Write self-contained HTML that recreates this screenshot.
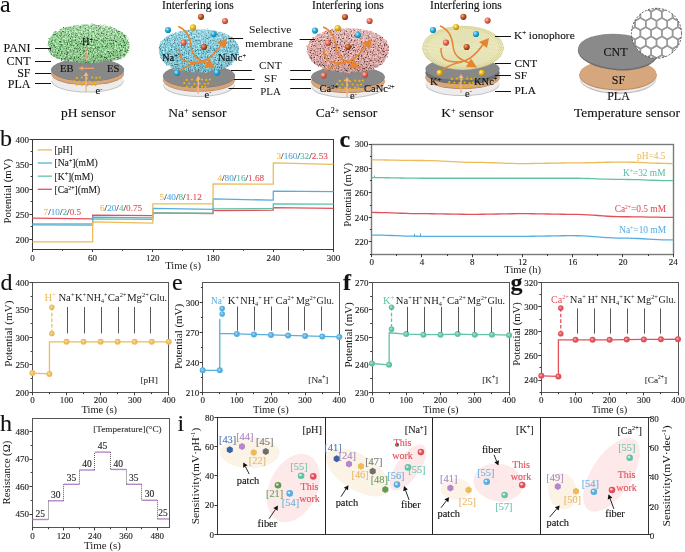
<!DOCTYPE html>
<html><head><meta charset="utf-8"><style>
html,body{margin:0;padding:0;background:#fff;}
svg{display:block;}
svg{will-change:transform;}
text{font-family:"Liberation Serif", serif;}
</style></head><body>
<svg width="685" height="552" viewBox="0 0 685 552">
<defs><radialGradient id="gBlue" cx="35%" cy="35%" r="65%"><stop offset="0" stop-color="#bff0ff"/><stop offset="0.45" stop-color="#2fb4e0"/><stop offset="1" stop-color="#0a7fb0"/></radialGradient><radialGradient id="gYel" cx="35%" cy="35%" r="65%"><stop offset="0" stop-color="#fff4b0"/><stop offset="0.45" stop-color="#f2c020"/><stop offset="1" stop-color="#c08a00"/></radialGradient><radialGradient id="gRed" cx="35%" cy="35%" r="65%"><stop offset="0" stop-color="#ffd0c0"/><stop offset="0.45" stop-color="#e87060"/><stop offset="1" stop-color="#b04030"/></radialGradient><radialGradient id="gBrn" cx="35%" cy="35%" r="65%"><stop offset="0" stop-color="#f0b090"/><stop offset="0.45" stop-color="#c86030"/><stop offset="1" stop-color="#803010"/></radialGradient><linearGradient id="gShade" x1="0" y1="0" x2="0" y2="1"><stop offset="0" stop-color="#fff" stop-opacity="0.22"/><stop offset="0.5" stop-color="#fff" stop-opacity="0"/><stop offset="1" stop-color="#000" stop-opacity="0.12"/></linearGradient><filter id="fGreen" x="-10%" y="-10%" width="120%" height="120%" color-interpolation-filters="sRGB">
<feTurbulence type="fractalNoise" baseFrequency="0.6" numOctaves="2" seed="3" result="n"/>
<feColorMatrix in="n" type="matrix" values="0 0 0 0.75 0.195  0 0 0 0.75 0.435  0 0 0 0.75 0.195  0 0 0 0 1" result="c"/>
<feTurbulence type="fractalNoise" baseFrequency="0.7" numOctaves="2" seed="7" result="s0"/>
<feGaussianBlur in="s0" stdDeviation="0.3" result="s"/>
<feColorMatrix in="s" type="matrix" values="0 0 0 0 0.22  0 0 0 0 0.36  0 0 0 0 0.22  0 0 0 6.0 -3.480" result="sp"/>
<feComposite in="sp" in2="c" operator="over" result="cs"/>
<feTurbulence type="fractalNoise" baseFrequency="0.35" numOctaves="2" seed="12" result="d"/>
<feDisplacementMap in="SourceGraphic" in2="d" scale="3" xChannelSelector="R" yChannelSelector="G" result="shape"/>
<feComposite in="cs" in2="shape" operator="in"/>
</filter><filter id="fBlue" x="-10%" y="-10%" width="120%" height="120%" color-interpolation-filters="sRGB">
<feTurbulence type="fractalNoise" baseFrequency="0.6" numOctaves="2" seed="7" result="n"/>
<feColorMatrix in="n" type="matrix" values="0 0 0 0.6 0.220  0 0 0 0.6 0.500  0 0 0 0.6 0.560  0 0 0 0 1" result="c"/>
<feTurbulence type="fractalNoise" baseFrequency="0.7" numOctaves="2" seed="11" result="s0"/>
<feGaussianBlur in="s0" stdDeviation="0.3" result="s"/>
<feColorMatrix in="s" type="matrix" values="0 0 0 0 0.25  0 0 0 0 0.45  0 0 0 0 0.5  0 0 0 6.0 -3.480" result="sp"/>
<feComposite in="sp" in2="c" operator="over" result="cs"/>
<feTurbulence type="fractalNoise" baseFrequency="0.35" numOctaves="2" seed="16" result="d"/>
<feDisplacementMap in="SourceGraphic" in2="d" scale="3" xChannelSelector="R" yChannelSelector="G" result="shape"/>
<feComposite in="cs" in2="shape" operator="in"/>
</filter><filter id="fPink" x="-10%" y="-10%" width="120%" height="120%" color-interpolation-filters="sRGB">
<feTurbulence type="fractalNoise" baseFrequency="0.6" numOctaves="2" seed="11" result="n"/>
<feColorMatrix in="n" type="matrix" values="0 0 0 0.6 0.570  0 0 0 0.6 0.370  0 0 0 0.6 0.360  0 0 0 0 1" result="c"/>
<feTurbulence type="fractalNoise" baseFrequency="0.7" numOctaves="2" seed="15" result="s0"/>
<feGaussianBlur in="s0" stdDeviation="0.3" result="s"/>
<feColorMatrix in="s" type="matrix" values="0 0 0 0 0.35  0 0 0 0 0.22  0 0 0 0 0.22  0 0 0 6.0 -3.480" result="sp"/>
<feComposite in="sp" in2="c" operator="over" result="cs"/>
<feTurbulence type="fractalNoise" baseFrequency="0.35" numOctaves="2" seed="20" result="d"/>
<feDisplacementMap in="SourceGraphic" in2="d" scale="3" xChannelSelector="R" yChannelSelector="G" result="shape"/>
<feComposite in="cs" in2="shape" operator="in"/>
</filter><radialGradient id="gCream" cx="50%" cy="45%" r="55%"><stop offset="0" stop-color="#f2f0c8"/><stop offset="0.8" stop-color="#e8e4a8"/><stop offset="1" stop-color="#d8d290"/></radialGradient><pattern id="pRings" patternUnits="userSpaceOnUse" width="1.8" height="1.8"><circle cx="0.9" cy="0.9" r="0.55" fill="#c9c27a" fill-opacity="0.55"/></pattern><clipPath id="cHex"><circle cx="656.5" cy="33.3" r="25"/></clipPath></defs>
<rect width="685" height="552" fill="#fff"/>
<text x="0.0" y="12.2" font-size="24" text-anchor="start" fill="#111" stroke="#111" stroke-width="0.12" >a</text>
<ellipse cx="87.6" cy="81.20" rx="36.1" ry="11.3" fill="#c4c4c4"/>
<ellipse cx="87.6" cy="80.20" rx="35.8" ry="11.3" fill="#ececec"/>
<ellipse cx="87.6" cy="73.90" rx="36.4" ry="11.3" fill="#c08a60"/>
<ellipse cx="87.6" cy="73.10" rx="36.4" ry="11.3" fill="#d6a67c"/>
<ellipse cx="87.6" cy="70.00" rx="36.4" ry="11.3" fill="#707070"/>
<ellipse cx="87.6" cy="69.7" rx="36.4" ry="11.3" fill="#888888"/>
<circle cx="76.8" cy="77.9" r="1.1" fill="#F2B400"/>
<circle cx="81.9" cy="77.5" r="1.1" fill="#F2B400"/>
<circle cx="87.0" cy="78.3" r="1.1" fill="#F2B400"/>
<circle cx="92.1" cy="77.5" r="1.1" fill="#F2B400"/>
<circle cx="96.3" cy="77.9" r="1.1" fill="#F2B400"/>
<circle cx="99.8" cy="77.5" r="1.1" fill="#F2B400"/>
<circle cx="74.2" cy="81.0" r="1.1" fill="#F2B400"/>
<circle cx="79.3" cy="81.5" r="1.1" fill="#F2B400"/>
<circle cx="84.5" cy="82.0" r="1.1" fill="#F2B400"/>
<circle cx="89.5" cy="81.5" r="1.1" fill="#F2B400"/>
<circle cx="94.7" cy="82.0" r="1.1" fill="#F2B400"/>
<circle cx="98.0" cy="81.5" r="1.1" fill="#F2B400"/>
<circle cx="76.8" cy="84.7" r="1.1" fill="#F2B400"/>
<circle cx="81.9" cy="85.1" r="1.1" fill="#F2B400"/>
<circle cx="87.0" cy="85.5" r="1.1" fill="#F2B400"/>
<circle cx="92.1" cy="84.7" r="1.1" fill="#F2B400"/>
<circle cx="95.5" cy="85.1" r="1.1" fill="#F2B400"/>
<path d="M48,47 C46,34 62,24 88,24.5 C114,24 131,33 129.5,47 C128,58 118,62 106,60 C100,63 92,64 86,63 C78,63 70,61 62,60 C52,58 48,53 48,47 Z" fill="#000" filter="url(#fGreen)"/>
<path d="M48,47 C46,34 62,24 88,24.5 C114,24 131,33 129.5,47 C128,58 118,62 106,60 C100,63 92,64 86,63 C78,63 70,61 62,60 C52,58 48,53 48,47 Z" fill="url(#gShade)"/>
<circle cx="70" cy="33" r="0.85" fill="#fff" fill-opacity="0.75"/>
<circle cx="76" cy="31" r="0.85" fill="#fff" fill-opacity="0.75"/>
<circle cx="82" cy="29" r="0.85" fill="#fff" fill-opacity="0.75"/>
<circle cx="90" cy="30" r="0.85" fill="#fff" fill-opacity="0.75"/>
<circle cx="96" cy="32" r="0.85" fill="#fff" fill-opacity="0.75"/>
<circle cx="102" cy="30" r="0.85" fill="#fff" fill-opacity="0.75"/>
<circle cx="108" cy="34" r="0.85" fill="#fff" fill-opacity="0.75"/>
<circle cx="74" cy="38" r="0.85" fill="#fff" fill-opacity="0.75"/>
<circle cx="100" cy="38" r="0.85" fill="#fff" fill-opacity="0.75"/>
<circle cx="94" cy="36" r="0.85" fill="#fff" fill-opacity="0.75"/>
<circle cx="80" cy="35" r="0.85" fill="#fff" fill-opacity="0.75"/>
<circle cx="112" cy="37" r="0.85" fill="#fff" fill-opacity="0.75"/>
<circle cx="66" cy="37" r="0.85" fill="#fff" fill-opacity="0.75"/>
<line x1="86" y1="48" x2="86" y2="57" stroke="#F0A070" stroke-width="1.3"/><polygon points="86,61 83.8,56.5 88.2,56.5" fill="#F0A070"/>
<line x1="94" y1="68.3" x2="82" y2="68.3" stroke="#F0A070" stroke-width="1.3"/><polygon points="78.5,68.3 83,66.1 83,70.5" fill="#F0A070"/>
<line x1="86" y1="92" x2="86" y2="75" stroke="#F4B48C" stroke-width="1.4"/>
<polygon points="86,72 83.5,76 88.5,76" fill="#F4B48C"/>
<text x="82.0" y="45.0" font-size="10.5" text-anchor="start" fill="#111" stroke="#111" stroke-width="0.12" >H<tspan dy="-3.47" font-size="6.3">+</tspan></text>
<text x="60.0" y="72.0" font-size="10.5" text-anchor="start" fill="#111" stroke="#111" stroke-width="0.12" >EB</text>
<text x="107.0" y="72.0" font-size="10.5" text-anchor="start" fill="#111" stroke="#111" stroke-width="0.12" >ES</text>
<text x="95.5" y="94.0" font-size="10.5" text-anchor="start" fill="#111" stroke="#111" stroke-width="0.12" >e<tspan dy="-3.47" font-size="6.3">-</tspan></text>
<text x="30.5" y="52.4" font-size="12" text-anchor="end" fill="#111" stroke="#111" stroke-width="0.12" >PANI</text>
<line x1="35.00" y1="48.50" x2="51.00" y2="48.50" stroke="#111" stroke-width="1.0" />
<text x="30.5" y="65.0" font-size="12" text-anchor="end" fill="#111" stroke="#111" stroke-width="0.12" >CNT</text>
<line x1="35.00" y1="61.50" x2="51.00" y2="61.50" stroke="#111" stroke-width="1.0" />
<text x="30.5" y="77.0" font-size="12" text-anchor="end" fill="#111" stroke="#111" stroke-width="0.12" >SF</text>
<line x1="35.00" y1="73.50" x2="51.00" y2="73.50" stroke="#111" stroke-width="1.0" />
<text x="30.5" y="88.0" font-size="12" text-anchor="end" fill="#111" stroke="#111" stroke-width="0.12" >PLA</text>
<line x1="35.00" y1="83.50" x2="51.00" y2="83.50" stroke="#111" stroke-width="1.0" />
<text x="88.3" y="117.4" font-size="13.5" text-anchor="middle" fill="#111" stroke="#111" stroke-width="0.12" >pH sensor</text>
<ellipse cx="199" cy="85.40" rx="35.7" ry="11.5" fill="#c4c4c4"/>
<ellipse cx="199" cy="84.40" rx="35.4" ry="11.5" fill="#ececec"/>
<ellipse cx="199" cy="80.30" rx="36" ry="11.5" fill="#c08a60"/>
<ellipse cx="199" cy="79.50" rx="36" ry="11.5" fill="#d6a67c"/>
<ellipse cx="199" cy="76.30" rx="36" ry="11.5" fill="#707070"/>
<ellipse cx="199" cy="76" rx="36" ry="11.5" fill="#888888"/>
<circle cx="186.8" cy="79.9" r="1.1" fill="#F2B400"/>
<circle cx="191.9" cy="79.5" r="1.1" fill="#F2B400"/>
<circle cx="197.0" cy="80.3" r="1.1" fill="#F2B400"/>
<circle cx="202.1" cy="79.5" r="1.1" fill="#F2B400"/>
<circle cx="206.3" cy="79.9" r="1.1" fill="#F2B400"/>
<circle cx="209.8" cy="79.5" r="1.1" fill="#F2B400"/>
<circle cx="184.2" cy="83.0" r="1.1" fill="#F2B400"/>
<circle cx="189.3" cy="83.5" r="1.1" fill="#F2B400"/>
<circle cx="194.4" cy="84.0" r="1.1" fill="#F2B400"/>
<circle cx="199.6" cy="83.5" r="1.1" fill="#F2B400"/>
<circle cx="204.7" cy="84.0" r="1.1" fill="#F2B400"/>
<circle cx="208.1" cy="83.5" r="1.1" fill="#F2B400"/>
<circle cx="186.8" cy="86.7" r="1.1" fill="#F2B400"/>
<circle cx="191.9" cy="87.1" r="1.1" fill="#F2B400"/>
<circle cx="197.0" cy="87.5" r="1.1" fill="#F2B400"/>
<circle cx="202.1" cy="86.7" r="1.1" fill="#F2B400"/>
<circle cx="205.5" cy="87.1" r="1.1" fill="#F2B400"/>
<path d="M159,51 C157,37 176,29 199,29.5 C222,29 241,37 239,51 C238,62 228,69 214,70.5 C206,72.5 194,73 186,71.5 C172,70.5 160,63 159,51 Z" fill="#000" filter="url(#fBlue)"/>
<path d="M159,51 C157,37 176,29 199,29.5 C222,29 241,37 239,51 C238,62 228,69 214,70.5 C206,72.5 194,73 186,71.5 C172,70.5 160,63 159,51 Z" fill="url(#gShade)"/>
<line x1="198.2" y1="94" x2="198.2" y2="78.8" stroke="#F4B48C" stroke-width="1.4"/>
<polygon points="198.2,75.8 195.7,79.8 200.7,79.8" fill="#F4B48C"/>
<path d="M178.2,26.5 C186.2,29.5 190.2,36.5 191.2,46.5 C192.2,56.5 198.2,60.5 208.2,63.5" fill="none" stroke="#E8832E" stroke-width="1.5"/>
<polygon points="215.2,68.0 204.2,67.5 209.2,59.0" fill="#E8832E"/>
<path d="M179.2,48.5 C179.2,58.5 181.2,62.5 196.2,62.5 C208.2,62.5 216.2,52.5 222.2,43.5" fill="none" stroke="#E8832E" stroke-width="1.5"/>
<polygon points="227.2,38.5 225.2,48.5 217.2,42.5" fill="#E8832E"/>
<path d="M180.2,70.5 C186.2,66.5 192.2,63.5 200.2,62.5" fill="none" stroke="#E8832E" stroke-width="1.5"/>
<circle cx="201.0" cy="16.8" r="3.1" fill="url(#gBrn)"/>
<circle cx="225.0" cy="21.0" r="3.1" fill="url(#gRed)"/>
<circle cx="168.0" cy="30.0" r="3.1" fill="url(#gBlue)"/>
<circle cx="193.0" cy="27.4" r="3.1" fill="url(#gYel)"/>
<circle cx="213.6" cy="34.0" r="3.1" fill="url(#gBlue)"/>
<circle cx="183.6" cy="42.6" r="3.1" fill="url(#gRed)"/>
<circle cx="204.0" cy="47.0" r="3.1" fill="url(#gBrn)"/>
<circle cx="177.0" cy="73.0" r="3.1" fill="url(#gBlue)"/>
<circle cx="217.0" cy="72.6" r="3.1" fill="url(#gBlue)"/>
<text x="162.0" y="61.0" font-size="10.5" text-anchor="start" fill="#111" stroke="#111" stroke-width="0.12" >Na<tspan dy="-3.47" font-size="6.3">+</tspan></text>
<text x="218.0" y="61.0" font-size="10.5" text-anchor="start" fill="#111" stroke="#111" stroke-width="0.12" >NaNc<tspan dy="-3.47" font-size="6.3">+</tspan></text>
<text x="204.5" y="97.5" font-size="10.5" text-anchor="start" fill="#111" stroke="#111" stroke-width="0.12" >e<tspan dy="-3.47" font-size="6.3">-</tspan></text>
<text x="198.0" y="9.0" font-size="11.6" text-anchor="middle" fill="#111" stroke="#111" stroke-width="0.12" >Interfering ions</text>
<line x1="228.60" y1="38.50" x2="243.10" y2="38.50" stroke="#111" stroke-width="1.0" />
<text x="270.2" y="32.8" font-size="11.3" text-anchor="middle" fill="#111" textLength="42.5" lengthAdjust="spacingAndGlyphs" >Selective</text>
<text x="269.2" y="46.5" font-size="11.3" text-anchor="middle" fill="#111" textLength="47.8" lengthAdjust="spacingAndGlyphs" >membrane</text>
<line x1="230.80" y1="70.50" x2="251.80" y2="70.50" stroke="#111" stroke-width="1.0" />
<line x1="233.70" y1="79.50" x2="254.70" y2="79.50" stroke="#111" stroke-width="1.0" />
<line x1="228.60" y1="88.50" x2="251.80" y2="88.50" stroke="#111" stroke-width="1.0" />
<text x="270.3" y="69.3" font-size="11.3" text-anchor="middle" fill="#111" textLength="22.5" lengthAdjust="spacingAndGlyphs" >CNT</text>
<text x="270.5" y="82.3" font-size="11.3" text-anchor="middle" fill="#111" textLength="12.8" lengthAdjust="spacingAndGlyphs" >SF</text>
<text x="270.5" y="94.6" font-size="11.3" text-anchor="middle" fill="#111" textLength="20.6" lengthAdjust="spacingAndGlyphs" >PLA</text>
<line x1="290.20" y1="70.50" x2="311.00" y2="70.50" stroke="#111" stroke-width="1.0" />
<line x1="290.20" y1="79.50" x2="311.00" y2="79.50" stroke="#111" stroke-width="1.0" />
<line x1="290.20" y1="88.50" x2="311.00" y2="88.50" stroke="#111" stroke-width="1.0" />
<text x="197.4" y="117.4" font-size="13.5" text-anchor="middle" fill="#111" stroke="#111" stroke-width="0.12" >Na<tspan dy="-4.46" font-size="8.1">+</tspan><tspan dy="4.46"> sensor</tspan></text>
<ellipse cx="348" cy="87.00" rx="36.5" ry="11" fill="#c4c4c4"/>
<ellipse cx="348" cy="86.00" rx="36.199999999999996" ry="11" fill="#ececec"/>
<ellipse cx="348" cy="82.00" rx="36.8" ry="11" fill="#c08a60"/>
<ellipse cx="348" cy="81.20" rx="36.8" ry="11" fill="#d6a67c"/>
<ellipse cx="348" cy="77.50" rx="36.8" ry="11" fill="#707070"/>
<ellipse cx="348" cy="77" rx="36.8" ry="11" fill="#888888"/>
<circle cx="339.8" cy="80.9" r="1.1" fill="#F2B400"/>
<circle cx="344.9" cy="80.5" r="1.1" fill="#F2B400"/>
<circle cx="350.0" cy="81.3" r="1.1" fill="#F2B400"/>
<circle cx="355.1" cy="80.5" r="1.1" fill="#F2B400"/>
<circle cx="359.4" cy="80.9" r="1.1" fill="#F2B400"/>
<circle cx="362.8" cy="80.5" r="1.1" fill="#F2B400"/>
<circle cx="337.2" cy="84.0" r="1.1" fill="#F2B400"/>
<circle cx="342.4" cy="84.5" r="1.1" fill="#F2B400"/>
<circle cx="347.4" cy="85.0" r="1.1" fill="#F2B400"/>
<circle cx="352.6" cy="84.5" r="1.1" fill="#F2B400"/>
<circle cx="357.6" cy="85.0" r="1.1" fill="#F2B400"/>
<circle cx="361.1" cy="84.5" r="1.1" fill="#F2B400"/>
<circle cx="339.8" cy="87.7" r="1.1" fill="#F2B400"/>
<circle cx="344.9" cy="88.1" r="1.1" fill="#F2B400"/>
<circle cx="350.0" cy="88.5" r="1.1" fill="#F2B400"/>
<circle cx="355.1" cy="87.7" r="1.1" fill="#F2B400"/>
<circle cx="358.5" cy="88.1" r="1.1" fill="#F2B400"/>
<path d="M307,50 C306,36 325,28 348,28.5 C372,28 390,36 389,50 C388,62 378,70 362,71.5 C354,73 342,73 334,71.5 C318,69 308,62 307,50 Z" fill="#000" filter="url(#fPink)"/>
<path d="M307,50 C306,36 325,28 348,28.5 C372,28 390,36 389,50 C388,62 378,70 362,71.5 C354,73 342,73 334,71.5 C318,69 308,62 307,50 Z" fill="url(#gShade)"/>
<line x1="347" y1="98" x2="347" y2="80" stroke="#F4B48C" stroke-width="1.4"/>
<polygon points="347,77 344.5,81 349.5,81" fill="#F4B48C"/>
<path d="M323,27 C331,30 335,37 336,47 C337,57 343,61 353,64" fill="none" stroke="#E8832E" stroke-width="1.5"/>
<polygon points="360,68.5 349,68 354,59.5" fill="#E8832E"/>
<path d="M324,49 C324,59 326,63 341,63 C353,63 361,53 367,44" fill="none" stroke="#E8832E" stroke-width="1.5"/>
<polygon points="372,39 370,49 362,43" fill="#E8832E"/>
<path d="M325,71 C331,67 337,64 345,63" fill="none" stroke="#E8832E" stroke-width="1.5"/>
<circle cx="345.0" cy="17.0" r="3.1" fill="url(#gBrn)"/>
<circle cx="369.6" cy="21.0" r="3.1" fill="url(#gRed)"/>
<circle cx="315.0" cy="30.6" r="3.1" fill="url(#gBlue)"/>
<circle cx="337.6" cy="28.0" r="3.1" fill="url(#gYel)"/>
<circle cx="358.0" cy="35.0" r="3.1" fill="url(#gBlue)"/>
<circle cx="328.0" cy="43.0" r="3.1" fill="url(#gRed)"/>
<circle cx="348.0" cy="47.0" r="3.1" fill="url(#gBrn)"/>
<circle cx="323.7" cy="75.5" r="3.1" fill="url(#gRed)"/>
<circle cx="365.0" cy="74.8" r="3.1" fill="url(#gRed)"/>
<text x="319.6" y="92.4" font-size="10.5" text-anchor="start" fill="#111" stroke="#111" stroke-width="0.12" >Ca<tspan dy="-3.47" font-size="6.3">2+</tspan></text>
<text x="364.0" y="92.4" font-size="10.5" text-anchor="start" fill="#111" stroke="#111" stroke-width="0.12" >CaNc<tspan dy="-3.47" font-size="6.3">2+</tspan></text>
<text x="350.0" y="99.0" font-size="10.5" text-anchor="start" fill="#111" stroke="#111" stroke-width="0.12" >e<tspan dy="-3.47" font-size="6.3">-</tspan></text>
<text x="348.0" y="9.0" font-size="11.6" text-anchor="middle" fill="#111" stroke="#111" stroke-width="0.12" >Interfering ions</text>
<line x1="299.60" y1="39.50" x2="315.00" y2="39.50" stroke="#111" stroke-width="1.0" />
<text x="346.4" y="117.4" font-size="13.5" text-anchor="middle" fill="#111" stroke="#111" stroke-width="0.12" >Ca<tspan dy="-4.46" font-size="8.1">2+</tspan><tspan dy="4.46"> sensor</tspan></text>
<ellipse cx="462.5" cy="84.80" rx="36.900000000000006" ry="11.2" fill="#c4c4c4"/>
<ellipse cx="462.5" cy="83.80" rx="36.6" ry="11.2" fill="#ececec"/>
<ellipse cx="462.5" cy="77.80" rx="37.2" ry="11.2" fill="#c08a60"/>
<ellipse cx="462.5" cy="77.00" rx="37.2" ry="11.2" fill="#d6a67c"/>
<ellipse cx="462.5" cy="73.00" rx="37.2" ry="11.2" fill="#707070"/>
<ellipse cx="462.5" cy="69" rx="37.2" ry="11.2" fill="#888888"/>
<circle cx="451.8" cy="78.9" r="1.1" fill="#F2B400"/>
<circle cx="456.9" cy="78.5" r="1.1" fill="#F2B400"/>
<circle cx="462.0" cy="79.3" r="1.1" fill="#F2B400"/>
<circle cx="467.1" cy="78.5" r="1.1" fill="#F2B400"/>
<circle cx="471.4" cy="78.9" r="1.1" fill="#F2B400"/>
<circle cx="474.8" cy="78.5" r="1.1" fill="#F2B400"/>
<circle cx="449.2" cy="82.0" r="1.1" fill="#F2B400"/>
<circle cx="454.4" cy="82.5" r="1.1" fill="#F2B400"/>
<circle cx="459.4" cy="83.0" r="1.1" fill="#F2B400"/>
<circle cx="464.6" cy="82.5" r="1.1" fill="#F2B400"/>
<circle cx="469.6" cy="83.0" r="1.1" fill="#F2B400"/>
<circle cx="473.1" cy="82.5" r="1.1" fill="#F2B400"/>
<circle cx="451.8" cy="85.7" r="1.1" fill="#F2B400"/>
<circle cx="456.9" cy="86.1" r="1.1" fill="#F2B400"/>
<circle cx="462.0" cy="86.5" r="1.1" fill="#F2B400"/>
<circle cx="467.1" cy="85.7" r="1.1" fill="#F2B400"/>
<circle cx="470.5" cy="86.1" r="1.1" fill="#F2B400"/>
<ellipse cx="463" cy="48.3" rx="40.6" ry="21.7" fill="#c9c48a"/>
<ellipse cx="463" cy="47.5" rx="40.6" ry="21.7" fill="#efedc6"/>
<g fill="none" stroke-width="1.3"><ellipse cx="463" cy="47.50" rx="40.00" ry="21.20" stroke="#cfca8c" stroke-dasharray="0.7,0.75"/><ellipse cx="463" cy="47.55" rx="38.18" ry="20.24" stroke="#cfca8c" stroke-dasharray="0.7,0.75"/><ellipse cx="463" cy="47.59" rx="36.36" ry="19.27" stroke="#cfca8c" stroke-dasharray="0.7,0.75"/><ellipse cx="463" cy="47.64" rx="34.55" ry="18.31" stroke="#dcd8a4" stroke-dasharray="0.7,0.75"/><ellipse cx="463" cy="47.68" rx="32.73" ry="17.35" stroke="#dcd8a4" stroke-dasharray="0.7,0.75"/><ellipse cx="463" cy="47.73" rx="30.91" ry="16.38" stroke="#dcd8a4" stroke-dasharray="0.7,0.75"/><ellipse cx="463" cy="47.77" rx="29.09" ry="15.42" stroke="#dcd8a4" stroke-dasharray="0.7,0.75"/><ellipse cx="463" cy="47.82" rx="27.27" ry="14.45" stroke="#dcd8a4" stroke-dasharray="0.7,0.75"/><ellipse cx="463" cy="47.86" rx="25.45" ry="13.49" stroke="#dcd8a4" stroke-dasharray="0.7,0.75"/><ellipse cx="463" cy="47.91" rx="23.64" ry="12.53" stroke="#dcd8a4" stroke-dasharray="0.7,0.75"/><ellipse cx="463" cy="47.95" rx="21.82" ry="11.56" stroke="#dcd8a4" stroke-dasharray="0.7,0.75"/><ellipse cx="463" cy="48.00" rx="20.00" ry="10.60" stroke="#dcd8a4" stroke-dasharray="0.7,0.75"/><ellipse cx="463" cy="48.05" rx="18.18" ry="9.64" stroke="#dcd8a4" stroke-dasharray="0.7,0.75"/><ellipse cx="463" cy="48.09" rx="16.36" ry="8.67" stroke="#dcd8a4" stroke-dasharray="0.7,0.75"/><ellipse cx="463" cy="48.14" rx="14.55" ry="7.71" stroke="#dcd8a4" stroke-dasharray="0.7,0.75"/><ellipse cx="463" cy="48.18" rx="12.73" ry="6.75" stroke="#dcd8a4" stroke-dasharray="0.7,0.75"/><ellipse cx="463" cy="48.23" rx="10.91" ry="5.78" stroke="#dcd8a4" stroke-dasharray="0.7,0.75"/><ellipse cx="463" cy="48.27" rx="9.09" ry="4.82" stroke="#dcd8a4" stroke-dasharray="0.7,0.75"/><ellipse cx="463" cy="48.32" rx="7.27" ry="3.85" stroke="#dcd8a4" stroke-dasharray="0.7,0.75"/><ellipse cx="463" cy="48.36" rx="5.45" ry="2.89" stroke="#dcd8a4" stroke-dasharray="0.7,0.75"/><ellipse cx="463" cy="48.41" rx="3.64" ry="1.93" stroke="#dcd8a4" stroke-dasharray="0.7,0.75"/></g>
<line x1="461" y1="93" x2="461" y2="77" stroke="#F4B48C" stroke-width="1.4"/>
<polygon points="461,74 458.5,78 463.5,78" fill="#F4B48C"/>
<path d="M440,26 C448,29 452,36 453,46 C454,56 460,60 470,63" fill="none" stroke="#E8832E" stroke-width="1.5"/>
<polygon points="477,67.5 466,67 471,58.5" fill="#E8832E"/>
<path d="M441,48 C441,58 443,62 458,62 C470,62 478,52 484,43" fill="none" stroke="#E8832E" stroke-width="1.5"/>
<polygon points="489,38 487,48 479,42" fill="#E8832E"/>
<path d="M442,70 C448,66 454,63 462,62" fill="none" stroke="#E8832E" stroke-width="1.5"/>
<circle cx="463.4" cy="16.8" r="3.1" fill="url(#gBrn)"/>
<circle cx="487.6" cy="20.6" r="3.1" fill="url(#gRed)"/>
<circle cx="433.0" cy="30.0" r="3.1" fill="url(#gBlue)"/>
<circle cx="456.0" cy="27.0" r="3.1" fill="url(#gYel)"/>
<circle cx="476.0" cy="34.0" r="3.1" fill="url(#gBlue)"/>
<circle cx="446.0" cy="42.6" r="3.1" fill="url(#gRed)"/>
<circle cx="466.6" cy="47.0" r="3.1" fill="url(#gBrn)"/>
<circle cx="439.7" cy="72.9" r="3.1" fill="url(#gYel)"/>
<circle cx="481.8" cy="72.9" r="3.1" fill="url(#gYel)"/>
<text x="430.0" y="85.0" font-size="10.5" text-anchor="start" fill="#111" stroke="#111" stroke-width="0.12" >K<tspan dy="-3.47" font-size="6.3">+</tspan></text>
<text x="474.0" y="84.5" font-size="10.5" text-anchor="start" fill="#111" stroke="#111" stroke-width="0.12" >KNc<tspan dy="-3.47" font-size="6.3">+</tspan></text>
<text x="465.0" y="96.5" font-size="10.5" text-anchor="start" fill="#111" stroke="#111" stroke-width="0.12" >e<tspan dy="-3.47" font-size="6.3">-</tspan></text>
<text x="466.0" y="9.0" font-size="11.6" text-anchor="middle" fill="#111" stroke="#111" stroke-width="0.12" >Interfering ions</text>
<line x1="495.00" y1="36.50" x2="511.00" y2="36.50" stroke="#111" stroke-width="1.0" />
<text x="514.0" y="38.5" font-size="11.3" text-anchor="start" fill="#111" stroke="#111" stroke-width="0.12" >K<tspan dy="-3.73" font-size="6.8">+</tspan><tspan dy="3.73"> ionophore</tspan></text>
<line x1="495.00" y1="63.50" x2="511.00" y2="63.50" stroke="#111" stroke-width="1.0" />
<text x="514.5" y="66.5" font-size="11.3" text-anchor="start" fill="#111" stroke="#111" stroke-width="0.12" >CNT</text>
<line x1="495.00" y1="75.50" x2="511.00" y2="75.50" stroke="#111" stroke-width="1.0" />
<text x="514.5" y="79.0" font-size="11.3" text-anchor="start" fill="#111" stroke="#111" stroke-width="0.12" >SF</text>
<line x1="495.00" y1="91.50" x2="511.00" y2="91.50" stroke="#111" stroke-width="1.0" />
<text x="514.5" y="94.0" font-size="11.3" text-anchor="start" fill="#111" stroke="#111" stroke-width="0.12" >PLA</text>
<text x="467.4" y="117.4" font-size="13.5" text-anchor="middle" fill="#111" stroke="#111" stroke-width="0.12" >K<tspan dy="-4.46" font-size="8.1">+</tspan><tspan dy="4.46"> sensor</tspan></text>
<ellipse cx="618" cy="78.5" rx="38.3" ry="15.5" fill="#c4c4c4"/>
<ellipse cx="618" cy="77.3" rx="38.3" ry="15.3" fill="#ececec"/>
<ellipse cx="618" cy="75.2" rx="38.8" ry="15.2" fill="#c08a60"/>
<ellipse cx="618" cy="74.3" rx="38.6" ry="15" fill="#d6a67c"/>
<ellipse cx="617.5" cy="52.5" rx="39.8" ry="17.8" transform="rotate(4 617.5 52.5)" fill="#6d6d6d"/>
<ellipse cx="617.5" cy="51.3" rx="39.6" ry="17.4" transform="rotate(4 617.5 51.3)" fill="#8a8a8a"/>
<circle cx="656.5" cy="33.3" r="25" fill="#fff"/>
<g clip-path="url(#cHex)" fill="none" stroke="#999" stroke-width="1.5"><polygon points="592.07,-16.30 586.70,-19.40 586.70,-25.60 592.07,-28.70 597.44,-25.60 597.44,-19.40"/><polygon points="602.81,-16.30 597.44,-19.40 597.44,-25.60 602.81,-28.70 608.18,-25.60 608.18,-19.40"/><polygon points="613.55,-16.30 608.18,-19.40 608.18,-25.60 613.55,-28.70 618.91,-25.60 618.91,-19.40"/><polygon points="624.28,-16.30 618.91,-19.40 618.91,-25.60 624.28,-28.70 629.65,-25.60 629.65,-19.40"/><polygon points="635.02,-16.30 629.65,-19.40 629.65,-25.60 635.02,-28.70 640.39,-25.60 640.39,-19.40"/><polygon points="645.76,-16.30 640.39,-19.40 640.39,-25.60 645.76,-28.70 651.13,-25.60 651.13,-19.40"/><polygon points="656.50,-16.30 651.13,-19.40 651.13,-25.60 656.50,-28.70 661.87,-25.60 661.87,-19.40"/><polygon points="667.24,-16.30 661.87,-19.40 661.87,-25.60 667.24,-28.70 672.61,-25.60 672.61,-19.40"/><polygon points="677.98,-16.30 672.61,-19.40 672.61,-25.60 677.98,-28.70 683.35,-25.60 683.35,-19.40"/><polygon points="688.72,-16.30 683.35,-19.40 683.35,-25.60 688.72,-28.70 694.09,-25.60 694.09,-19.40"/><polygon points="699.45,-16.30 694.09,-19.40 694.09,-25.60 699.45,-28.70 704.82,-25.60 704.82,-19.40"/><polygon points="710.19,-16.30 704.82,-19.40 704.82,-25.60 710.19,-28.70 715.56,-25.60 715.56,-19.40"/><polygon points="720.93,-16.30 715.56,-19.40 715.56,-25.60 720.93,-28.70 726.30,-25.60 726.30,-19.40"/><polygon points="597.44,-7.00 592.07,-10.10 592.07,-16.30 597.44,-19.40 602.81,-16.30 602.81,-10.10"/><polygon points="608.18,-7.00 602.81,-10.10 602.81,-16.30 608.18,-19.40 613.55,-16.30 613.55,-10.10"/><polygon points="618.91,-7.00 613.55,-10.10 613.55,-16.30 618.91,-19.40 624.28,-16.30 624.28,-10.10"/><polygon points="629.65,-7.00 624.28,-10.10 624.28,-16.30 629.65,-19.40 635.02,-16.30 635.02,-10.10"/><polygon points="640.39,-7.00 635.02,-10.10 635.02,-16.30 640.39,-19.40 645.76,-16.30 645.76,-10.10"/><polygon points="651.13,-7.00 645.76,-10.10 645.76,-16.30 651.13,-19.40 656.50,-16.30 656.50,-10.10"/><polygon points="661.87,-7.00 656.50,-10.10 656.50,-16.30 661.87,-19.40 667.24,-16.30 667.24,-10.10"/><polygon points="672.61,-7.00 667.24,-10.10 667.24,-16.30 672.61,-19.40 677.98,-16.30 677.98,-10.10"/><polygon points="683.35,-7.00 677.98,-10.10 677.98,-16.30 683.35,-19.40 688.72,-16.30 688.72,-10.10"/><polygon points="694.09,-7.00 688.72,-10.10 688.72,-16.30 694.09,-19.40 699.45,-16.30 699.45,-10.10"/><polygon points="704.82,-7.00 699.45,-10.10 699.45,-16.30 704.82,-19.40 710.19,-16.30 710.19,-10.10"/><polygon points="715.56,-7.00 710.19,-10.10 710.19,-16.30 715.56,-19.40 720.93,-16.30 720.93,-10.10"/><polygon points="726.30,-7.00 720.93,-10.10 720.93,-16.30 726.30,-19.40 731.67,-16.30 731.67,-10.10"/><polygon points="592.07,2.30 586.70,-0.80 586.70,-7.00 592.07,-10.10 597.44,-7.00 597.44,-0.80"/><polygon points="602.81,2.30 597.44,-0.80 597.44,-7.00 602.81,-10.10 608.18,-7.00 608.18,-0.80"/><polygon points="613.55,2.30 608.18,-0.80 608.18,-7.00 613.55,-10.10 618.91,-7.00 618.91,-0.80"/><polygon points="624.28,2.30 618.91,-0.80 618.91,-7.00 624.28,-10.10 629.65,-7.00 629.65,-0.80"/><polygon points="635.02,2.30 629.65,-0.80 629.65,-7.00 635.02,-10.10 640.39,-7.00 640.39,-0.80"/><polygon points="645.76,2.30 640.39,-0.80 640.39,-7.00 645.76,-10.10 651.13,-7.00 651.13,-0.80"/><polygon points="656.50,2.30 651.13,-0.80 651.13,-7.00 656.50,-10.10 661.87,-7.00 661.87,-0.80"/><polygon points="667.24,2.30 661.87,-0.80 661.87,-7.00 667.24,-10.10 672.61,-7.00 672.61,-0.80"/><polygon points="677.98,2.30 672.61,-0.80 672.61,-7.00 677.98,-10.10 683.35,-7.00 683.35,-0.80"/><polygon points="688.72,2.30 683.35,-0.80 683.35,-7.00 688.72,-10.10 694.09,-7.00 694.09,-0.80"/><polygon points="699.45,2.30 694.09,-0.80 694.09,-7.00 699.45,-10.10 704.82,-7.00 704.82,-0.80"/><polygon points="710.19,2.30 704.82,-0.80 704.82,-7.00 710.19,-10.10 715.56,-7.00 715.56,-0.80"/><polygon points="720.93,2.30 715.56,-0.80 715.56,-7.00 720.93,-10.10 726.30,-7.00 726.30,-0.80"/><polygon points="597.44,11.60 592.07,8.50 592.07,2.30 597.44,-0.80 602.81,2.30 602.81,8.50"/><polygon points="608.18,11.60 602.81,8.50 602.81,2.30 608.18,-0.80 613.55,2.30 613.55,8.50"/><polygon points="618.91,11.60 613.55,8.50 613.55,2.30 618.91,-0.80 624.28,2.30 624.28,8.50"/><polygon points="629.65,11.60 624.28,8.50 624.28,2.30 629.65,-0.80 635.02,2.30 635.02,8.50"/><polygon points="640.39,11.60 635.02,8.50 635.02,2.30 640.39,-0.80 645.76,2.30 645.76,8.50"/><polygon points="651.13,11.60 645.76,8.50 645.76,2.30 651.13,-0.80 656.50,2.30 656.50,8.50"/><polygon points="661.87,11.60 656.50,8.50 656.50,2.30 661.87,-0.80 667.24,2.30 667.24,8.50"/><polygon points="672.61,11.60 667.24,8.50 667.24,2.30 672.61,-0.80 677.98,2.30 677.98,8.50"/><polygon points="683.35,11.60 677.98,8.50 677.98,2.30 683.35,-0.80 688.72,2.30 688.72,8.50"/><polygon points="694.09,11.60 688.72,8.50 688.72,2.30 694.09,-0.80 699.45,2.30 699.45,8.50"/><polygon points="704.82,11.60 699.45,8.50 699.45,2.30 704.82,-0.80 710.19,2.30 710.19,8.50"/><polygon points="715.56,11.60 710.19,8.50 710.19,2.30 715.56,-0.80 720.93,2.30 720.93,8.50"/><polygon points="726.30,11.60 720.93,8.50 720.93,2.30 726.30,-0.80 731.67,2.30 731.67,8.50"/><polygon points="592.07,20.90 586.70,17.80 586.70,11.60 592.07,8.50 597.44,11.60 597.44,17.80"/><polygon points="602.81,20.90 597.44,17.80 597.44,11.60 602.81,8.50 608.18,11.60 608.18,17.80"/><polygon points="613.55,20.90 608.18,17.80 608.18,11.60 613.55,8.50 618.91,11.60 618.91,17.80"/><polygon points="624.28,20.90 618.91,17.80 618.91,11.60 624.28,8.50 629.65,11.60 629.65,17.80"/><polygon points="635.02,20.90 629.65,17.80 629.65,11.60 635.02,8.50 640.39,11.60 640.39,17.80"/><polygon points="645.76,20.90 640.39,17.80 640.39,11.60 645.76,8.50 651.13,11.60 651.13,17.80"/><polygon points="656.50,20.90 651.13,17.80 651.13,11.60 656.50,8.50 661.87,11.60 661.87,17.80"/><polygon points="667.24,20.90 661.87,17.80 661.87,11.60 667.24,8.50 672.61,11.60 672.61,17.80"/><polygon points="677.98,20.90 672.61,17.80 672.61,11.60 677.98,8.50 683.35,11.60 683.35,17.80"/><polygon points="688.72,20.90 683.35,17.80 683.35,11.60 688.72,8.50 694.09,11.60 694.09,17.80"/><polygon points="699.45,20.90 694.09,17.80 694.09,11.60 699.45,8.50 704.82,11.60 704.82,17.80"/><polygon points="710.19,20.90 704.82,17.80 704.82,11.60 710.19,8.50 715.56,11.60 715.56,17.80"/><polygon points="720.93,20.90 715.56,17.80 715.56,11.60 720.93,8.50 726.30,11.60 726.30,17.80"/><polygon points="597.44,30.20 592.07,27.10 592.07,20.90 597.44,17.80 602.81,20.90 602.81,27.10"/><polygon points="608.18,30.20 602.81,27.10 602.81,20.90 608.18,17.80 613.55,20.90 613.55,27.10"/><polygon points="618.91,30.20 613.55,27.10 613.55,20.90 618.91,17.80 624.28,20.90 624.28,27.10"/><polygon points="629.65,30.20 624.28,27.10 624.28,20.90 629.65,17.80 635.02,20.90 635.02,27.10"/><polygon points="640.39,30.20 635.02,27.10 635.02,20.90 640.39,17.80 645.76,20.90 645.76,27.10"/><polygon points="651.13,30.20 645.76,27.10 645.76,20.90 651.13,17.80 656.50,20.90 656.50,27.10"/><polygon points="661.87,30.20 656.50,27.10 656.50,20.90 661.87,17.80 667.24,20.90 667.24,27.10"/><polygon points="672.61,30.20 667.24,27.10 667.24,20.90 672.61,17.80 677.98,20.90 677.98,27.10"/><polygon points="683.35,30.20 677.98,27.10 677.98,20.90 683.35,17.80 688.72,20.90 688.72,27.10"/><polygon points="694.09,30.20 688.72,27.10 688.72,20.90 694.09,17.80 699.45,20.90 699.45,27.10"/><polygon points="704.82,30.20 699.45,27.10 699.45,20.90 704.82,17.80 710.19,20.90 710.19,27.10"/><polygon points="715.56,30.20 710.19,27.10 710.19,20.90 715.56,17.80 720.93,20.90 720.93,27.10"/><polygon points="726.30,30.20 720.93,27.10 720.93,20.90 726.30,17.80 731.67,20.90 731.67,27.10"/><polygon points="592.07,39.50 586.70,36.40 586.70,30.20 592.07,27.10 597.44,30.20 597.44,36.40"/><polygon points="602.81,39.50 597.44,36.40 597.44,30.20 602.81,27.10 608.18,30.20 608.18,36.40"/><polygon points="613.55,39.50 608.18,36.40 608.18,30.20 613.55,27.10 618.91,30.20 618.91,36.40"/><polygon points="624.28,39.50 618.91,36.40 618.91,30.20 624.28,27.10 629.65,30.20 629.65,36.40"/><polygon points="635.02,39.50 629.65,36.40 629.65,30.20 635.02,27.10 640.39,30.20 640.39,36.40"/><polygon points="645.76,39.50 640.39,36.40 640.39,30.20 645.76,27.10 651.13,30.20 651.13,36.40"/><polygon points="656.50,39.50 651.13,36.40 651.13,30.20 656.50,27.10 661.87,30.20 661.87,36.40"/><polygon points="667.24,39.50 661.87,36.40 661.87,30.20 667.24,27.10 672.61,30.20 672.61,36.40"/><polygon points="677.98,39.50 672.61,36.40 672.61,30.20 677.98,27.10 683.35,30.20 683.35,36.40"/><polygon points="688.72,39.50 683.35,36.40 683.35,30.20 688.72,27.10 694.09,30.20 694.09,36.40"/><polygon points="699.45,39.50 694.09,36.40 694.09,30.20 699.45,27.10 704.82,30.20 704.82,36.40"/><polygon points="710.19,39.50 704.82,36.40 704.82,30.20 710.19,27.10 715.56,30.20 715.56,36.40"/><polygon points="720.93,39.50 715.56,36.40 715.56,30.20 720.93,27.10 726.30,30.20 726.30,36.40"/><polygon points="597.44,48.80 592.07,45.70 592.07,39.50 597.44,36.40 602.81,39.50 602.81,45.70"/><polygon points="608.18,48.80 602.81,45.70 602.81,39.50 608.18,36.40 613.55,39.50 613.55,45.70"/><polygon points="618.91,48.80 613.55,45.70 613.55,39.50 618.91,36.40 624.28,39.50 624.28,45.70"/><polygon points="629.65,48.80 624.28,45.70 624.28,39.50 629.65,36.40 635.02,39.50 635.02,45.70"/><polygon points="640.39,48.80 635.02,45.70 635.02,39.50 640.39,36.40 645.76,39.50 645.76,45.70"/><polygon points="651.13,48.80 645.76,45.70 645.76,39.50 651.13,36.40 656.50,39.50 656.50,45.70"/><polygon points="661.87,48.80 656.50,45.70 656.50,39.50 661.87,36.40 667.24,39.50 667.24,45.70"/><polygon points="672.61,48.80 667.24,45.70 667.24,39.50 672.61,36.40 677.98,39.50 677.98,45.70"/><polygon points="683.35,48.80 677.98,45.70 677.98,39.50 683.35,36.40 688.72,39.50 688.72,45.70"/><polygon points="694.09,48.80 688.72,45.70 688.72,39.50 694.09,36.40 699.45,39.50 699.45,45.70"/><polygon points="704.82,48.80 699.45,45.70 699.45,39.50 704.82,36.40 710.19,39.50 710.19,45.70"/><polygon points="715.56,48.80 710.19,45.70 710.19,39.50 715.56,36.40 720.93,39.50 720.93,45.70"/><polygon points="726.30,48.80 720.93,45.70 720.93,39.50 726.30,36.40 731.67,39.50 731.67,45.70"/><polygon points="592.07,58.10 586.70,55.00 586.70,48.80 592.07,45.70 597.44,48.80 597.44,55.00"/><polygon points="602.81,58.10 597.44,55.00 597.44,48.80 602.81,45.70 608.18,48.80 608.18,55.00"/><polygon points="613.55,58.10 608.18,55.00 608.18,48.80 613.55,45.70 618.91,48.80 618.91,55.00"/><polygon points="624.28,58.10 618.91,55.00 618.91,48.80 624.28,45.70 629.65,48.80 629.65,55.00"/><polygon points="635.02,58.10 629.65,55.00 629.65,48.80 635.02,45.70 640.39,48.80 640.39,55.00"/><polygon points="645.76,58.10 640.39,55.00 640.39,48.80 645.76,45.70 651.13,48.80 651.13,55.00"/><polygon points="656.50,58.10 651.13,55.00 651.13,48.80 656.50,45.70 661.87,48.80 661.87,55.00"/><polygon points="667.24,58.10 661.87,55.00 661.87,48.80 667.24,45.70 672.61,48.80 672.61,55.00"/><polygon points="677.98,58.10 672.61,55.00 672.61,48.80 677.98,45.70 683.35,48.80 683.35,55.00"/><polygon points="688.72,58.10 683.35,55.00 683.35,48.80 688.72,45.70 694.09,48.80 694.09,55.00"/><polygon points="699.45,58.10 694.09,55.00 694.09,48.80 699.45,45.70 704.82,48.80 704.82,55.00"/><polygon points="710.19,58.10 704.82,55.00 704.82,48.80 710.19,45.70 715.56,48.80 715.56,55.00"/><polygon points="720.93,58.10 715.56,55.00 715.56,48.80 720.93,45.70 726.30,48.80 726.30,55.00"/><polygon points="597.44,67.40 592.07,64.30 592.07,58.10 597.44,55.00 602.81,58.10 602.81,64.30"/><polygon points="608.18,67.40 602.81,64.30 602.81,58.10 608.18,55.00 613.55,58.10 613.55,64.30"/><polygon points="618.91,67.40 613.55,64.30 613.55,58.10 618.91,55.00 624.28,58.10 624.28,64.30"/><polygon points="629.65,67.40 624.28,64.30 624.28,58.10 629.65,55.00 635.02,58.10 635.02,64.30"/><polygon points="640.39,67.40 635.02,64.30 635.02,58.10 640.39,55.00 645.76,58.10 645.76,64.30"/><polygon points="651.13,67.40 645.76,64.30 645.76,58.10 651.13,55.00 656.50,58.10 656.50,64.30"/><polygon points="661.87,67.40 656.50,64.30 656.50,58.10 661.87,55.00 667.24,58.10 667.24,64.30"/><polygon points="672.61,67.40 667.24,64.30 667.24,58.10 672.61,55.00 677.98,58.10 677.98,64.30"/><polygon points="683.35,67.40 677.98,64.30 677.98,58.10 683.35,55.00 688.72,58.10 688.72,64.30"/><polygon points="694.09,67.40 688.72,64.30 688.72,58.10 694.09,55.00 699.45,58.10 699.45,64.30"/><polygon points="704.82,67.40 699.45,64.30 699.45,58.10 704.82,55.00 710.19,58.10 710.19,64.30"/><polygon points="715.56,67.40 710.19,64.30 710.19,58.10 715.56,55.00 720.93,58.10 720.93,64.30"/><polygon points="726.30,67.40 720.93,64.30 720.93,58.10 726.30,55.00 731.67,58.10 731.67,64.30"/><polygon points="592.07,76.70 586.70,73.60 586.70,67.40 592.07,64.30 597.44,67.40 597.44,73.60"/><polygon points="602.81,76.70 597.44,73.60 597.44,67.40 602.81,64.30 608.18,67.40 608.18,73.60"/><polygon points="613.55,76.70 608.18,73.60 608.18,67.40 613.55,64.30 618.91,67.40 618.91,73.60"/><polygon points="624.28,76.70 618.91,73.60 618.91,67.40 624.28,64.30 629.65,67.40 629.65,73.60"/><polygon points="635.02,76.70 629.65,73.60 629.65,67.40 635.02,64.30 640.39,67.40 640.39,73.60"/><polygon points="645.76,76.70 640.39,73.60 640.39,67.40 645.76,64.30 651.13,67.40 651.13,73.60"/><polygon points="656.50,76.70 651.13,73.60 651.13,67.40 656.50,64.30 661.87,67.40 661.87,73.60"/><polygon points="667.24,76.70 661.87,73.60 661.87,67.40 667.24,64.30 672.61,67.40 672.61,73.60"/><polygon points="677.98,76.70 672.61,73.60 672.61,67.40 677.98,64.30 683.35,67.40 683.35,73.60"/><polygon points="688.72,76.70 683.35,73.60 683.35,67.40 688.72,64.30 694.09,67.40 694.09,73.60"/><polygon points="699.45,76.70 694.09,73.60 694.09,67.40 699.45,64.30 704.82,67.40 704.82,73.60"/><polygon points="710.19,76.70 704.82,73.60 704.82,67.40 710.19,64.30 715.56,67.40 715.56,73.60"/><polygon points="720.93,76.70 715.56,73.60 715.56,67.40 720.93,64.30 726.30,67.40 726.30,73.60"/><polygon points="597.44,86.00 592.07,82.90 592.07,76.70 597.44,73.60 602.81,76.70 602.81,82.90"/><polygon points="608.18,86.00 602.81,82.90 602.81,76.70 608.18,73.60 613.55,76.70 613.55,82.90"/><polygon points="618.91,86.00 613.55,82.90 613.55,76.70 618.91,73.60 624.28,76.70 624.28,82.90"/><polygon points="629.65,86.00 624.28,82.90 624.28,76.70 629.65,73.60 635.02,76.70 635.02,82.90"/><polygon points="640.39,86.00 635.02,82.90 635.02,76.70 640.39,73.60 645.76,76.70 645.76,82.90"/><polygon points="651.13,86.00 645.76,82.90 645.76,76.70 651.13,73.60 656.50,76.70 656.50,82.90"/><polygon points="661.87,86.00 656.50,82.90 656.50,76.70 661.87,73.60 667.24,76.70 667.24,82.90"/><polygon points="672.61,86.00 667.24,82.90 667.24,76.70 672.61,73.60 677.98,76.70 677.98,82.90"/><polygon points="683.35,86.00 677.98,82.90 677.98,76.70 683.35,73.60 688.72,76.70 688.72,82.90"/><polygon points="694.09,86.00 688.72,82.90 688.72,76.70 694.09,73.60 699.45,76.70 699.45,82.90"/><polygon points="704.82,86.00 699.45,82.90 699.45,76.70 704.82,73.60 710.19,76.70 710.19,82.90"/><polygon points="715.56,86.00 710.19,82.90 710.19,76.70 715.56,73.60 720.93,76.70 720.93,82.90"/><polygon points="726.30,86.00 720.93,82.90 720.93,76.70 726.30,73.60 731.67,76.70 731.67,82.90"/><polygon points="592.07,95.30 586.70,92.20 586.70,86.00 592.07,82.90 597.44,86.00 597.44,92.20"/><polygon points="602.81,95.30 597.44,92.20 597.44,86.00 602.81,82.90 608.18,86.00 608.18,92.20"/><polygon points="613.55,95.30 608.18,92.20 608.18,86.00 613.55,82.90 618.91,86.00 618.91,92.20"/><polygon points="624.28,95.30 618.91,92.20 618.91,86.00 624.28,82.90 629.65,86.00 629.65,92.20"/><polygon points="635.02,95.30 629.65,92.20 629.65,86.00 635.02,82.90 640.39,86.00 640.39,92.20"/><polygon points="645.76,95.30 640.39,92.20 640.39,86.00 645.76,82.90 651.13,86.00 651.13,92.20"/><polygon points="656.50,95.30 651.13,92.20 651.13,86.00 656.50,82.90 661.87,86.00 661.87,92.20"/><polygon points="667.24,95.30 661.87,92.20 661.87,86.00 667.24,82.90 672.61,86.00 672.61,92.20"/><polygon points="677.98,95.30 672.61,92.20 672.61,86.00 677.98,82.90 683.35,86.00 683.35,92.20"/><polygon points="688.72,95.30 683.35,92.20 683.35,86.00 688.72,82.90 694.09,86.00 694.09,92.20"/><polygon points="699.45,95.30 694.09,92.20 694.09,86.00 699.45,82.90 704.82,86.00 704.82,92.20"/><polygon points="710.19,95.30 704.82,92.20 704.82,86.00 710.19,82.90 715.56,86.00 715.56,92.20"/><polygon points="720.93,95.30 715.56,92.20 715.56,86.00 720.93,82.90 726.30,86.00 726.30,92.20"/></g>
<circle cx="656.5" cy="33.3" r="25" fill="none" stroke="#444" stroke-width="0.9" stroke-dasharray="2,1.5"/>
<text x="615.6" y="55.5" font-size="12" text-anchor="middle" fill="#111" stroke="#111" stroke-width="0.12" >CNT</text>
<text x="618.5" y="83.6" font-size="12" text-anchor="middle" fill="#111" stroke="#111" stroke-width="0.12" >SF</text>
<text x="618.5" y="100.4" font-size="12" text-anchor="middle" fill="#111" stroke="#111" stroke-width="0.12" >PLA</text>
<text x="627.0" y="117.4" font-size="13.5" text-anchor="middle" fill="#111" stroke="#111" stroke-width="0.12" >Temperature sensor</text>
<text x="0.0" y="146.0" font-size="24" text-anchor="start" fill="#111" stroke="#111" stroke-width="0.12" >b</text>
<rect x="32.50" y="139.50" width="301.00" height="110.00" fill="none" stroke="#3a3a3a" stroke-width="1"/>
<line x1="29.40" y1="239.50" x2="32.40" y2="239.50" stroke="#3a3a3a" stroke-width="1" />
<text x="28.9" y="242.6" font-size="9" text-anchor="end" fill="#222" stroke="#222" stroke-width="0.12" >200</text>
<line x1="29.40" y1="214.50" x2="32.40" y2="214.50" stroke="#3a3a3a" stroke-width="1" />
<text x="28.9" y="217.6" font-size="9" text-anchor="end" fill="#222" stroke="#222" stroke-width="0.12" >250</text>
<line x1="29.40" y1="189.50" x2="32.40" y2="189.50" stroke="#3a3a3a" stroke-width="1" />
<text x="28.9" y="192.6" font-size="9" text-anchor="end" fill="#222" stroke="#222" stroke-width="0.12" >300</text>
<line x1="29.40" y1="164.50" x2="32.40" y2="164.50" stroke="#3a3a3a" stroke-width="1" />
<text x="28.9" y="167.6" font-size="9" text-anchor="end" fill="#222" stroke="#222" stroke-width="0.12" >350</text>
<line x1="29.40" y1="139.50" x2="32.40" y2="139.50" stroke="#3a3a3a" stroke-width="1" />
<text x="28.9" y="142.6" font-size="9" text-anchor="end" fill="#222" stroke="#222" stroke-width="0.12" >400</text>
<line x1="30.60" y1="226.50" x2="32.40" y2="226.50" stroke="#3a3a3a" stroke-width="1" />
<line x1="30.60" y1="201.50" x2="32.40" y2="201.50" stroke="#3a3a3a" stroke-width="1" />
<line x1="30.60" y1="176.50" x2="32.40" y2="176.50" stroke="#3a3a3a" stroke-width="1" />
<line x1="30.60" y1="151.50" x2="32.40" y2="151.50" stroke="#3a3a3a" stroke-width="1" />
<line x1="32.50" y1="249.00" x2="32.50" y2="252.00" stroke="#3a3a3a" stroke-width="1" />
<text x="32.4" y="260.5" font-size="9" text-anchor="middle" fill="#222" stroke="#222" stroke-width="0.12" >0</text>
<line x1="92.50" y1="249.00" x2="92.50" y2="252.00" stroke="#3a3a3a" stroke-width="1" />
<text x="92.6" y="260.5" font-size="9" text-anchor="middle" fill="#222" stroke="#222" stroke-width="0.12" >60</text>
<line x1="152.50" y1="249.00" x2="152.50" y2="252.00" stroke="#3a3a3a" stroke-width="1" />
<text x="152.8" y="260.5" font-size="9" text-anchor="middle" fill="#222" stroke="#222" stroke-width="0.12" >120</text>
<line x1="213.50" y1="249.00" x2="213.50" y2="252.00" stroke="#3a3a3a" stroke-width="1" />
<text x="213.1" y="260.5" font-size="9" text-anchor="middle" fill="#222" stroke="#222" stroke-width="0.12" >180</text>
<line x1="273.50" y1="249.00" x2="273.50" y2="252.00" stroke="#3a3a3a" stroke-width="1" />
<text x="273.3" y="260.5" font-size="9" text-anchor="middle" fill="#222" stroke="#222" stroke-width="0.12" >240</text>
<line x1="333.50" y1="249.00" x2="333.50" y2="252.00" stroke="#3a3a3a" stroke-width="1" />
<text x="333.5" y="260.5" font-size="9" text-anchor="middle" fill="#222" stroke="#222" stroke-width="0.12" >300</text>
<line x1="62.50" y1="249.00" x2="62.50" y2="250.80" stroke="#3a3a3a" stroke-width="1" />
<line x1="122.50" y1="249.00" x2="122.50" y2="250.80" stroke="#3a3a3a" stroke-width="1" />
<line x1="182.50" y1="249.00" x2="182.50" y2="250.80" stroke="#3a3a3a" stroke-width="1" />
<line x1="243.50" y1="249.00" x2="243.50" y2="250.80" stroke="#3a3a3a" stroke-width="1" />
<line x1="303.50" y1="249.00" x2="303.50" y2="250.80" stroke="#3a3a3a" stroke-width="1" />
<text x="183.1" y="269.0" font-size="10.6" text-anchor="middle" fill="#222" textLength="35.8" lengthAdjust="spacingAndGlyphs" >Time (s)</text>
<text transform="translate(10.8,191.2) rotate(-90)" font-size="11" text-anchor="middle" fill="#111" textLength="64.4" lengthAdjust="spacingAndGlyphs">Potential (mV)</text>
<line x1="37.70" y1="149.90" x2="52.00" y2="149.90" stroke="#EDBB5A" stroke-width="1.3" />
<text x="54.5" y="153.3" font-size="9.6" text-anchor="start" fill="#222" stroke="#222" stroke-width="0.12" >[pH]</text>
<line x1="37.70" y1="163.03" x2="52.00" y2="163.03" stroke="#55AEE0" stroke-width="1.3" />
<text x="54.5" y="166.4" font-size="9.6" text-anchor="start" fill="#222" stroke="#222" stroke-width="0.12" >[Na<tspan dy="-3.17" font-size="5.8">+</tspan><tspan dy="3.17">](mM)</tspan></text>
<line x1="37.70" y1="176.16" x2="52.00" y2="176.16" stroke="#62C2A8" stroke-width="1.3" />
<text x="54.5" y="179.6" font-size="9.6" text-anchor="start" fill="#222" stroke="#222" stroke-width="0.12" >[K<tspan dy="-3.17" font-size="5.8">+</tspan><tspan dy="3.17">](mM)</tspan></text>
<line x1="37.70" y1="189.29" x2="52.00" y2="189.29" stroke="#E2505A" stroke-width="1.3" />
<text x="54.5" y="192.7" font-size="9.6" text-anchor="start" fill="#222" stroke="#222" stroke-width="0.12" >[Ca<tspan dy="-3.17" font-size="5.8">2+</tspan><tspan dy="3.17">](mM)</tspan></text>
<polyline points="32.40,218.15 92.62,218.90 92.62,215.15 152.84,215.65 152.84,212.90 213.06,213.65 213.06,210.65 273.28,210.15 273.28,207.65 333.50,208.40" fill="none" stroke="#E2505A" stroke-width="1.3" stroke-linejoin="round" />
<polyline points="32.40,223.90 92.62,223.90 92.62,218.90 152.84,219.40 152.84,212.90 213.06,213.15 213.06,208.90 273.28,208.40 273.28,203.90 333.50,204.15" fill="none" stroke="#62C2A8" stroke-width="1.3" stroke-linejoin="round" />
<polyline points="32.40,224.90 92.62,225.15 92.62,217.15 152.84,217.90 152.84,208.40 213.06,209.40 213.06,198.90 273.28,200.15 273.28,191.15 333.50,191.65" fill="none" stroke="#55AEE0" stroke-width="1.3" stroke-linejoin="round" />
<polyline points="32.40,241.90 92.62,241.90 92.62,221.90 152.84,223.15 152.84,203.90 213.06,203.90 213.06,183.90 273.28,184.15 273.28,162.90 333.50,164.40" fill="none" stroke="#EDBB5A" stroke-width="1.3" stroke-linejoin="round" />
<text x="43.6" y="214.8" font-size="9.2" text-anchor="start" fill="#222" stroke="#222" stroke-width="0.12" ><tspan fill="#EDBB5A" stroke="#EDBB5A">7</tspan><tspan fill="#333" stroke="#333">/</tspan><tspan fill="#55AEE0" stroke="#55AEE0">10</tspan><tspan fill="#333" stroke="#333">/</tspan><tspan fill="#62C2A8" stroke="#62C2A8">2</tspan><tspan fill="#333" stroke="#333">/</tspan><tspan fill="#E2505A" stroke="#E2505A">0.5</tspan></text>
<text x="100.0" y="211.2" font-size="9.2" text-anchor="start" fill="#222" stroke="#222" stroke-width="0.12" ><tspan fill="#EDBB5A" stroke="#EDBB5A">6</tspan><tspan fill="#333" stroke="#333">/</tspan><tspan fill="#55AEE0" stroke="#55AEE0">20</tspan><tspan fill="#333" stroke="#333">/</tspan><tspan fill="#62C2A8" stroke="#62C2A8">4</tspan><tspan fill="#333" stroke="#333">/</tspan><tspan fill="#E2505A" stroke="#E2505A">0.75</tspan></text>
<text x="159.6" y="199.6" font-size="9.2" text-anchor="start" fill="#222" stroke="#222" stroke-width="0.12" ><tspan fill="#EDBB5A" stroke="#EDBB5A">5</tspan><tspan fill="#333" stroke="#333">/</tspan><tspan fill="#55AEE0" stroke="#55AEE0">40</tspan><tspan fill="#333" stroke="#333">/</tspan><tspan fill="#62C2A8" stroke="#62C2A8">8</tspan><tspan fill="#333" stroke="#333">/</tspan><tspan fill="#E2505A" stroke="#E2505A">1.12</tspan></text>
<text x="217.4" y="180.8" font-size="9.2" text-anchor="start" fill="#222" stroke="#222" stroke-width="0.12" ><tspan fill="#EDBB5A" stroke="#EDBB5A">4</tspan><tspan fill="#333" stroke="#333">/</tspan><tspan fill="#55AEE0" stroke="#55AEE0">80</tspan><tspan fill="#333" stroke="#333">/</tspan><tspan fill="#62C2A8" stroke="#62C2A8">16</tspan><tspan fill="#333" stroke="#333">/</tspan><tspan fill="#E2505A" stroke="#E2505A">1.68</tspan></text>
<text x="276.5" y="159.2" font-size="9.2" text-anchor="start" fill="#222" stroke="#222" stroke-width="0.12" ><tspan fill="#EDBB5A" stroke="#EDBB5A">3</tspan><tspan fill="#333" stroke="#333">/</tspan><tspan fill="#55AEE0" stroke="#55AEE0">160</tspan><tspan fill="#333" stroke="#333">/</tspan><tspan fill="#62C2A8" stroke="#62C2A8">32</tspan><tspan fill="#333" stroke="#333">/</tspan><tspan fill="#E2505A" stroke="#E2505A">2.53</tspan></text>
<text x="339.5" y="146.5" font-size="24" text-anchor="start" fill="#111" stroke="#111" stroke-width="0.12" font-weight="bold">c</text>
<rect x="371.50" y="144.50" width="302.00" height="110.00" fill="none" stroke="#7a7a7a" stroke-width="1.4"/>
<line x1="368.70" y1="241.50" x2="371.70" y2="241.50" stroke="#3a3a3a" stroke-width="1" />
<text x="368.2" y="245.0" font-size="9" text-anchor="end" fill="#222" stroke="#222" stroke-width="0.12" >220</text>
<line x1="368.70" y1="217.50" x2="371.70" y2="217.50" stroke="#3a3a3a" stroke-width="1" />
<text x="368.2" y="220.5" font-size="9" text-anchor="end" fill="#222" stroke="#222" stroke-width="0.12" >240</text>
<line x1="368.70" y1="192.50" x2="371.70" y2="192.50" stroke="#3a3a3a" stroke-width="1" />
<text x="368.2" y="196.1" font-size="9" text-anchor="end" fill="#222" stroke="#222" stroke-width="0.12" >260</text>
<line x1="368.70" y1="168.50" x2="371.70" y2="168.50" stroke="#3a3a3a" stroke-width="1" />
<text x="368.2" y="171.6" font-size="9" text-anchor="end" fill="#222" stroke="#222" stroke-width="0.12" >280</text>
<line x1="368.70" y1="144.50" x2="371.70" y2="144.50" stroke="#3a3a3a" stroke-width="1" />
<text x="368.2" y="147.2" font-size="9" text-anchor="end" fill="#222" stroke="#222" stroke-width="0.12" >300</text>
<line x1="369.90" y1="254.50" x2="371.70" y2="254.50" stroke="#3a3a3a" stroke-width="1" />
<line x1="369.90" y1="229.50" x2="371.70" y2="229.50" stroke="#3a3a3a" stroke-width="1" />
<line x1="369.90" y1="205.50" x2="371.70" y2="205.50" stroke="#3a3a3a" stroke-width="1" />
<line x1="369.90" y1="180.50" x2="371.70" y2="180.50" stroke="#3a3a3a" stroke-width="1" />
<line x1="369.90" y1="156.50" x2="371.70" y2="156.50" stroke="#3a3a3a" stroke-width="1" />
<line x1="371.50" y1="254.20" x2="371.50" y2="257.20" stroke="#3a3a3a" stroke-width="1" />
<text x="371.7" y="265.0" font-size="9" text-anchor="middle" fill="#222" stroke="#222" stroke-width="0.12" >0</text>
<line x1="421.50" y1="254.20" x2="421.50" y2="257.20" stroke="#3a3a3a" stroke-width="1" />
<text x="421.9" y="265.0" font-size="9" text-anchor="middle" fill="#222" stroke="#222" stroke-width="0.12" >4</text>
<line x1="472.50" y1="254.20" x2="472.50" y2="257.20" stroke="#3a3a3a" stroke-width="1" />
<text x="472.2" y="265.0" font-size="9" text-anchor="middle" fill="#222" stroke="#222" stroke-width="0.12" >8</text>
<line x1="522.50" y1="254.20" x2="522.50" y2="257.20" stroke="#3a3a3a" stroke-width="1" />
<text x="522.5" y="265.0" font-size="9" text-anchor="middle" fill="#222" stroke="#222" stroke-width="0.12" >12</text>
<line x1="572.50" y1="254.20" x2="572.50" y2="257.20" stroke="#3a3a3a" stroke-width="1" />
<text x="572.7" y="265.0" font-size="9" text-anchor="middle" fill="#222" stroke="#222" stroke-width="0.12" >16</text>
<line x1="622.50" y1="254.20" x2="622.50" y2="257.20" stroke="#3a3a3a" stroke-width="1" />
<text x="623.0" y="265.0" font-size="9" text-anchor="middle" fill="#222" stroke="#222" stroke-width="0.12" >20</text>
<line x1="673.50" y1="254.20" x2="673.50" y2="257.20" stroke="#3a3a3a" stroke-width="1" />
<text x="673.2" y="265.0" font-size="9" text-anchor="middle" fill="#222" stroke="#222" stroke-width="0.12" >24</text>
<line x1="396.50" y1="254.20" x2="396.50" y2="256.00" stroke="#3a3a3a" stroke-width="1" />
<line x1="447.50" y1="254.20" x2="447.50" y2="256.00" stroke="#3a3a3a" stroke-width="1" />
<line x1="497.50" y1="254.20" x2="497.50" y2="256.00" stroke="#3a3a3a" stroke-width="1" />
<line x1="547.50" y1="254.20" x2="547.50" y2="256.00" stroke="#3a3a3a" stroke-width="1" />
<line x1="597.50" y1="254.20" x2="597.50" y2="256.00" stroke="#3a3a3a" stroke-width="1" />
<line x1="648.50" y1="254.20" x2="648.50" y2="256.00" stroke="#3a3a3a" stroke-width="1" />
<text x="522.7" y="273.4" font-size="10.6" text-anchor="middle" fill="#222" textLength="36.7" lengthAdjust="spacingAndGlyphs" >Time (h)</text>
<text transform="translate(350.8,194.9) rotate(-90)" font-size="11" text-anchor="middle" fill="#111" textLength="63.7" lengthAdjust="spacingAndGlyphs">Potential (mV)</text>
<polyline points="371.70,159.89 376.72,159.91 381.75,159.95 386.77,160.02 391.80,160.10 396.82,160.20 401.85,160.29 406.88,160.38 411.90,160.45 416.93,160.49 421.95,160.50 426.98,160.55 432.00,160.68 437.02,160.88 442.05,161.14 447.07,161.42 452.10,161.70 457.12,161.96 462.15,162.16 467.18,162.29 472.20,162.34 477.23,162.37 482.25,162.45 487.27,162.59 492.30,162.76 497.32,162.95 502.35,163.14 507.38,163.31 512.40,163.44 517.42,163.53 522.45,163.56 527.48,163.55 532.50,163.50 537.52,163.43 542.55,163.35 547.58,163.25 552.60,163.16 557.62,163.07 562.65,163.01 567.67,162.96 572.70,162.95 577.73,162.93 582.75,162.87 587.78,162.77 592.80,162.65 597.83,162.52 602.85,162.39 607.88,162.27 612.90,162.17 617.93,162.11 622.95,162.09 627.98,162.13 633.00,162.23 638.03,162.40 643.05,162.60 648.08,162.83 653.10,163.05 658.12,163.26 663.15,163.42 668.18,163.52 673.20,163.56" fill="none" stroke="#EDBB5A" stroke-width="1.3" stroke-linejoin="round" />
<polyline points="371.70,177.62 376.72,177.63 381.75,177.68 386.77,177.74 391.80,177.83 396.82,177.92 401.85,178.02 406.88,178.10 411.90,178.17 416.93,178.22 421.95,178.23 426.98,178.23 432.00,178.23 437.02,178.23 442.05,178.23 447.07,178.23 452.10,178.23 457.12,178.23 462.15,178.23 467.18,178.23 472.20,178.23 477.23,178.23 482.25,178.23 487.27,178.23 492.30,178.23 497.32,178.23 502.35,178.23 507.38,178.23 512.40,178.23 517.42,178.23 522.45,178.23 527.48,178.23 532.50,178.23 537.52,178.23 542.55,178.23 547.58,178.23 552.60,178.23 557.62,178.23 562.65,178.23 567.67,178.23 572.70,178.23 577.73,178.26 582.75,178.35 587.78,178.48 592.80,178.65 597.83,178.84 602.85,179.03 607.88,179.20 612.90,179.34 617.93,179.42 622.95,179.45 627.98,179.48 633.00,179.57 638.03,179.70 643.05,179.87 648.08,180.06 653.10,180.25 658.12,180.42 663.15,180.56 668.18,180.65 673.20,180.68" fill="none" stroke="#62C2A8" stroke-width="1.3" stroke-linejoin="round" />
<polyline points="371.70,212.46 376.72,212.49 381.75,212.58 386.77,212.71 391.80,212.88 396.82,213.07 401.85,213.26 406.88,213.43 411.90,213.57 416.93,213.65 421.95,213.68 426.98,213.70 432.00,213.74 437.02,213.81 442.05,213.89 447.07,213.99 452.10,214.08 457.12,214.17 462.15,214.24 467.18,214.28 472.20,214.29 477.23,214.28 482.25,214.24 487.27,214.17 492.30,214.08 497.32,213.99 502.35,213.89 507.38,213.81 512.40,213.74 517.42,213.70 522.45,213.68 527.48,213.70 532.50,213.74 537.52,213.81 542.55,213.89 547.58,213.99 552.60,214.08 557.62,214.17 562.65,214.24 567.67,214.28 572.70,214.29 577.73,214.35 582.75,214.53 587.78,214.80 592.80,215.14 597.83,215.52 602.85,215.89 607.88,216.23 612.90,216.51 617.93,216.68 622.95,216.74 627.98,216.75 633.00,216.80 638.03,216.86 643.05,216.95 648.08,217.04 653.10,217.14 658.12,217.22 663.15,217.29 668.18,217.34 673.20,217.35" fill="none" stroke="#E2505A" stroke-width="1.3" stroke-linejoin="round" />
<polyline points="371.70,235.08 376.72,235.11 381.75,235.19 386.77,235.33 391.80,235.50 396.82,235.69 401.85,235.88 406.88,236.05 411.90,236.18 416.93,236.27 421.95,236.30 426.98,236.30 432.00,236.30 437.02,236.30 442.05,236.30 447.07,236.30 452.10,236.30 457.12,236.30 462.15,236.30 467.18,236.30 472.20,236.30 477.23,236.30 482.25,236.30 487.27,236.30 492.30,236.30 497.32,236.30 502.35,236.30 507.38,236.30 512.40,236.30 517.42,236.30 522.45,236.30 527.48,236.28 532.50,236.24 537.52,236.17 542.55,236.09 547.58,235.99 552.60,235.90 557.62,235.81 562.65,235.75 567.67,235.70 572.70,235.69 577.73,235.75 582.75,235.92 587.78,236.19 592.80,236.53 597.83,236.91 602.85,237.29 607.88,237.63 612.90,237.90 617.93,238.07 622.95,238.13 627.98,238.18 633.00,238.31 638.03,238.51 643.05,238.77 648.08,239.05 653.10,239.33 658.12,239.59 663.15,239.79 668.18,239.92 673.20,239.97" fill="none" stroke="#55AEE0" stroke-width="1.3" stroke-linejoin="round" />
<line x1="414.50" y1="236.18" x2="414.50" y2="233.85" stroke="#55AEE0" stroke-width="1.0" />
<line x1="420.50" y1="236.30" x2="420.50" y2="233.24" stroke="#55AEE0" stroke-width="1.0" />
<line x1="374.50" y1="177.62" x2="374.50" y2="175.54" stroke="#62C2A8" stroke-width="1.0" />
<text x="665.5" y="158.5" font-size="9.4" text-anchor="end" fill="#e9bc62" stroke="#e9bc62" stroke-width="0.05" >pH=4.5</text>
<text x="665.5" y="176.0" font-size="9.4" text-anchor="end" fill="#5fbfa8" stroke="#5fbfa8" stroke-width="0.05" >K<tspan dy="-3.10" font-size="5.6">+</tspan><tspan dy="3.10">=32 mM</tspan></text>
<text x="666.0" y="211.6" font-size="9.4" text-anchor="end" fill="#e0505a" stroke="#e0505a" stroke-width="0.05" >Ca<tspan dy="-3.10" font-size="5.6">2+</tspan><tspan dy="3.10">=0.5 mM</tspan></text>
<text x="666.0" y="233.2" font-size="9.4" text-anchor="end" fill="#5eb0e0" stroke="#5eb0e0" stroke-width="0.05" >Na<tspan dy="-3.10" font-size="5.6">+</tspan><tspan dy="3.10">=10 mM</tspan></text>
<text x="0.5" y="289.7" font-size="24" text-anchor="start" fill="#111" stroke="#111" stroke-width="0.12" >d</text>
<rect x="32.50" y="282.50" width="136.00" height="110.00" fill="none" stroke="#555" stroke-width="1"/>
<line x1="29.40" y1="392.50" x2="32.40" y2="392.50" stroke="#3a3a3a" stroke-width="1" />
<text x="28.9" y="395.5" font-size="9" text-anchor="end" fill="#222" stroke="#222" stroke-width="0.12" >200</text>
<line x1="29.40" y1="364.50" x2="32.40" y2="364.50" stroke="#3a3a3a" stroke-width="1" />
<text x="28.9" y="368.1" font-size="9" text-anchor="end" fill="#222" stroke="#222" stroke-width="0.12" >250</text>
<line x1="29.40" y1="337.50" x2="32.40" y2="337.50" stroke="#3a3a3a" stroke-width="1" />
<text x="28.9" y="340.6" font-size="9" text-anchor="end" fill="#222" stroke="#222" stroke-width="0.12" >300</text>
<line x1="29.40" y1="309.50" x2="32.40" y2="309.50" stroke="#3a3a3a" stroke-width="1" />
<text x="28.9" y="313.2" font-size="9" text-anchor="end" fill="#222" stroke="#222" stroke-width="0.12" >350</text>
<line x1="29.40" y1="282.50" x2="32.40" y2="282.50" stroke="#3a3a3a" stroke-width="1" />
<text x="28.9" y="285.7" font-size="9" text-anchor="end" fill="#222" stroke="#222" stroke-width="0.12" >400</text>
<line x1="30.60" y1="378.50" x2="32.40" y2="378.50" stroke="#3a3a3a" stroke-width="1" />
<line x1="30.60" y1="351.50" x2="32.40" y2="351.50" stroke="#3a3a3a" stroke-width="1" />
<line x1="30.60" y1="323.50" x2="32.40" y2="323.50" stroke="#3a3a3a" stroke-width="1" />
<line x1="30.60" y1="296.50" x2="32.40" y2="296.50" stroke="#3a3a3a" stroke-width="1" />
<line x1="32.50" y1="392.30" x2="32.50" y2="395.30" stroke="#3a3a3a" stroke-width="1" />
<text x="32.4" y="403.2" font-size="9" text-anchor="middle" fill="#222" stroke="#222" stroke-width="0.12" >0</text>
<line x1="66.50" y1="392.30" x2="66.50" y2="395.30" stroke="#3a3a3a" stroke-width="1" />
<text x="66.5" y="403.2" font-size="9" text-anchor="middle" fill="#222" stroke="#222" stroke-width="0.12" >100</text>
<line x1="100.50" y1="392.30" x2="100.50" y2="395.30" stroke="#3a3a3a" stroke-width="1" />
<text x="100.6" y="403.2" font-size="9" text-anchor="middle" fill="#222" stroke="#222" stroke-width="0.12" >200</text>
<line x1="134.50" y1="392.30" x2="134.50" y2="395.30" stroke="#3a3a3a" stroke-width="1" />
<text x="134.7" y="403.2" font-size="9" text-anchor="middle" fill="#222" stroke="#222" stroke-width="0.12" >300</text>
<line x1="168.50" y1="392.30" x2="168.50" y2="395.30" stroke="#3a3a3a" stroke-width="1" />
<text x="168.8" y="403.2" font-size="9" text-anchor="middle" fill="#222" stroke="#222" stroke-width="0.12" >400</text>
<line x1="49.50" y1="392.30" x2="49.50" y2="394.10" stroke="#3a3a3a" stroke-width="1" />
<line x1="83.50" y1="392.30" x2="83.50" y2="394.10" stroke="#3a3a3a" stroke-width="1" />
<line x1="117.50" y1="392.30" x2="117.50" y2="394.10" stroke="#3a3a3a" stroke-width="1" />
<line x1="151.50" y1="392.30" x2="151.50" y2="394.10" stroke="#3a3a3a" stroke-width="1" />
<text x="99.2" y="413.1" font-size="10.6" text-anchor="middle" fill="#222" textLength="35.6" lengthAdjust="spacingAndGlyphs" >Time (s)</text>
<text transform="translate(11.8,333.7) rotate(-90)" font-size="11" text-anchor="middle" fill="#111" textLength="66.1" lengthAdjust="spacingAndGlyphs">Potential (mV)</text>
<polyline points="32.40,373.09 49.45,373.91 49.45,341.79 49.45,341.79 66.50,341.79 83.55,341.79 100.60,341.79 117.65,341.79 134.70,341.79 151.75,341.79 168.80,341.79" fill="none" stroke="#EDBB5A" stroke-width="1.3" stroke-linejoin="round" />
<circle cx="32.40" cy="373.09" r="3.0" fill="#EDBB5A"/><circle cx="31.90" cy="372.59" r="1.26" fill="#fff" fill-opacity="0.4"/>
<circle cx="49.45" cy="373.91" r="3.0" fill="#EDBB5A"/><circle cx="48.95" cy="373.41" r="1.26" fill="#fff" fill-opacity="0.4"/>
<circle cx="66.50" cy="341.79" r="3.0" fill="#EDBB5A"/><circle cx="66.00" cy="341.29" r="1.26" fill="#fff" fill-opacity="0.4"/>
<circle cx="83.55" cy="341.79" r="3.0" fill="#EDBB5A"/><circle cx="83.05" cy="341.29" r="1.26" fill="#fff" fill-opacity="0.4"/>
<circle cx="100.60" cy="341.79" r="3.0" fill="#EDBB5A"/><circle cx="100.10" cy="341.29" r="1.26" fill="#fff" fill-opacity="0.4"/>
<circle cx="117.65" cy="341.79" r="3.0" fill="#EDBB5A"/><circle cx="117.15" cy="341.29" r="1.26" fill="#fff" fill-opacity="0.4"/>
<circle cx="134.70" cy="341.79" r="3.0" fill="#EDBB5A"/><circle cx="134.20" cy="341.29" r="1.26" fill="#fff" fill-opacity="0.4"/>
<circle cx="151.75" cy="341.79" r="3.0" fill="#EDBB5A"/><circle cx="151.25" cy="341.29" r="1.26" fill="#fff" fill-opacity="0.4"/>
<circle cx="168.80" cy="341.79" r="3.0" fill="#EDBB5A"/><circle cx="168.30" cy="341.29" r="1.26" fill="#fff" fill-opacity="0.4"/>
<line x1="51.84" y1="307.21" x2="51.84" y2="333.56" stroke="#EDBB5A" stroke-width="1.3" stroke-dasharray="3.6,2.0"/>
<circle cx="51.84" cy="307.21" r="2.8" fill="#EDBB5A"/><circle cx="51.34" cy="306.71" r="1.18" fill="#fff" fill-opacity="0.4"/>
<circle cx="51.84" cy="333.56" r="2.8" fill="#EDBB5A"/><circle cx="51.34" cy="333.06" r="1.18" fill="#fff" fill-opacity="0.4"/>
<line x1="67.50" y1="307.00" x2="67.50" y2="333.40" stroke="#444" stroke-width="0.9" />
<line x1="84.50" y1="307.00" x2="84.50" y2="333.40" stroke="#444" stroke-width="0.9" />
<line x1="101.50" y1="307.00" x2="101.50" y2="333.40" stroke="#444" stroke-width="0.9" />
<line x1="118.50" y1="307.00" x2="118.50" y2="333.40" stroke="#444" stroke-width="0.9" />
<line x1="134.50" y1="307.00" x2="134.50" y2="333.40" stroke="#444" stroke-width="0.9" />
<line x1="150.50" y1="307.00" x2="150.50" y2="333.40" stroke="#444" stroke-width="0.9" />
<text x="44.5" y="300.9" font-size="11" text-anchor="start" fill="#EDBB5A" textLength="11.3" lengthAdjust="spacingAndGlyphs" >H<tspan dy="-3.63" font-size="6.6">+</tspan></text>
<text x="58.4" y="300.9" font-size="11" text-anchor="start" fill="#222" textLength="16.1" lengthAdjust="spacingAndGlyphs" >Na<tspan dy="-3.63" font-size="6.6">+</tspan></text>
<text x="74.9" y="300.9" font-size="11" text-anchor="start" fill="#222" textLength="11.1" lengthAdjust="spacingAndGlyphs" >K<tspan dy="-3.63" font-size="6.6">+</tspan></text>
<text x="86.4" y="300.9" font-size="11" text-anchor="start" fill="#222" textLength="20.9" lengthAdjust="spacingAndGlyphs" >NH<tspan dy="2.42" font-size="6.6">4</tspan><tspan dy="-6.05" font-size="6.6">+</tspan></text>
<text x="107.7" y="300.9" font-size="11" text-anchor="start" fill="#222" textLength="18.8" lengthAdjust="spacingAndGlyphs" >Ca<tspan dy="-3.63" font-size="6.6">2+</tspan></text>
<text x="126.9" y="300.9" font-size="11" text-anchor="start" fill="#222" textLength="22.1" lengthAdjust="spacingAndGlyphs" >Mg<tspan dy="-3.63" font-size="6.6">2+</tspan></text>
<text x="149.4" y="300.9" font-size="11" text-anchor="start" fill="#222" textLength="17.6" lengthAdjust="spacingAndGlyphs" >Glu.</text>
<text x="157.8" y="382.5" font-size="9.2" text-anchor="end" fill="#333" stroke="#333" stroke-width="0.12" >[pH]</text>
<text x="172.0" y="289.7" font-size="24" text-anchor="start" fill="#111" stroke="#111" stroke-width="0.12" >e</text>
<rect x="202.50" y="282.50" width="137.00" height="110.00" fill="none" stroke="#555" stroke-width="1"/>
<line x1="199.70" y1="392.50" x2="202.70" y2="392.50" stroke="#3a3a3a" stroke-width="1" />
<text x="199.2" y="395.5" font-size="9" text-anchor="end" fill="#222" stroke="#222" stroke-width="0.12" >210</text>
<line x1="199.70" y1="362.50" x2="202.70" y2="362.50" stroke="#3a3a3a" stroke-width="1" />
<text x="199.2" y="365.6" font-size="9" text-anchor="end" fill="#222" stroke="#222" stroke-width="0.12" >240</text>
<line x1="199.70" y1="332.50" x2="202.70" y2="332.50" stroke="#3a3a3a" stroke-width="1" />
<text x="199.2" y="335.6" font-size="9" text-anchor="end" fill="#222" stroke="#222" stroke-width="0.12" >270</text>
<line x1="199.70" y1="302.50" x2="202.70" y2="302.50" stroke="#3a3a3a" stroke-width="1" />
<text x="199.2" y="305.7" font-size="9" text-anchor="end" fill="#222" stroke="#222" stroke-width="0.12" >300</text>
<line x1="200.90" y1="377.50" x2="202.70" y2="377.50" stroke="#3a3a3a" stroke-width="1" />
<line x1="200.90" y1="347.50" x2="202.70" y2="347.50" stroke="#3a3a3a" stroke-width="1" />
<line x1="200.90" y1="317.50" x2="202.70" y2="317.50" stroke="#3a3a3a" stroke-width="1" />
<line x1="200.90" y1="287.50" x2="202.70" y2="287.50" stroke="#3a3a3a" stroke-width="1" />
<line x1="202.50" y1="392.30" x2="202.50" y2="395.30" stroke="#3a3a3a" stroke-width="1" />
<text x="202.7" y="403.2" font-size="9" text-anchor="middle" fill="#222" stroke="#222" stroke-width="0.12" >0</text>
<line x1="236.50" y1="392.30" x2="236.50" y2="395.30" stroke="#3a3a3a" stroke-width="1" />
<text x="236.8" y="403.2" font-size="9" text-anchor="middle" fill="#222" stroke="#222" stroke-width="0.12" >100</text>
<line x1="271.50" y1="392.30" x2="271.50" y2="395.30" stroke="#3a3a3a" stroke-width="1" />
<text x="271.0" y="403.2" font-size="9" text-anchor="middle" fill="#222" stroke="#222" stroke-width="0.12" >200</text>
<line x1="305.50" y1="392.30" x2="305.50" y2="395.30" stroke="#3a3a3a" stroke-width="1" />
<text x="305.1" y="403.2" font-size="9" text-anchor="middle" fill="#222" stroke="#222" stroke-width="0.12" >300</text>
<line x1="339.50" y1="392.30" x2="339.50" y2="395.30" stroke="#3a3a3a" stroke-width="1" />
<text x="339.3" y="403.2" font-size="9" text-anchor="middle" fill="#222" stroke="#222" stroke-width="0.12" >400</text>
<line x1="219.50" y1="392.30" x2="219.50" y2="394.10" stroke="#3a3a3a" stroke-width="1" />
<line x1="253.50" y1="392.30" x2="253.50" y2="394.10" stroke="#3a3a3a" stroke-width="1" />
<line x1="288.50" y1="392.30" x2="288.50" y2="394.10" stroke="#3a3a3a" stroke-width="1" />
<line x1="322.50" y1="392.30" x2="322.50" y2="394.10" stroke="#3a3a3a" stroke-width="1" />
<text x="270.9" y="413.1" font-size="10.6" text-anchor="middle" fill="#222" textLength="35.6" lengthAdjust="spacingAndGlyphs" >Time (s)</text>
<text transform="translate(181.8,336.5) rotate(-90)" font-size="11" text-anchor="middle" fill="#111" textLength="65.2" lengthAdjust="spacingAndGlyphs">Potential (mV)</text>
<polyline points="202.70,370.34 219.77,370.34 219.77,319.43 219.77,333.41 236.85,333.91 253.93,334.41 271.00,334.90 288.07,335.40 305.15,335.90 322.23,336.40 339.30,336.90" fill="none" stroke="#55AEE0" stroke-width="1.3" stroke-linejoin="round" />
<circle cx="202.70" cy="370.34" r="3.0" fill="#55AEE0"/><circle cx="202.20" cy="369.84" r="1.26" fill="#fff" fill-opacity="0.4"/>
<circle cx="219.77" cy="370.34" r="3.0" fill="#55AEE0"/><circle cx="219.27" cy="369.84" r="1.26" fill="#fff" fill-opacity="0.4"/>
<circle cx="236.85" cy="333.91" r="3.0" fill="#55AEE0"/><circle cx="236.35" cy="333.41" r="1.26" fill="#fff" fill-opacity="0.4"/>
<circle cx="253.93" cy="334.41" r="3.0" fill="#55AEE0"/><circle cx="253.43" cy="333.91" r="1.26" fill="#fff" fill-opacity="0.4"/>
<circle cx="271.00" cy="334.90" r="3.0" fill="#55AEE0"/><circle cx="270.50" cy="334.40" r="1.26" fill="#fff" fill-opacity="0.4"/>
<circle cx="288.07" cy="335.40" r="3.0" fill="#55AEE0"/><circle cx="287.57" cy="334.90" r="1.26" fill="#fff" fill-opacity="0.4"/>
<circle cx="305.15" cy="335.90" r="3.0" fill="#55AEE0"/><circle cx="304.65" cy="335.40" r="1.26" fill="#fff" fill-opacity="0.4"/>
<circle cx="322.23" cy="336.40" r="3.0" fill="#55AEE0"/><circle cx="321.73" cy="335.90" r="1.26" fill="#fff" fill-opacity="0.4"/>
<circle cx="339.30" cy="336.90" r="3.0" fill="#55AEE0"/><circle cx="338.80" cy="336.40" r="1.26" fill="#fff" fill-opacity="0.4"/>
<circle cx="222.17" cy="308.45" r="2.8" fill="#55AEE0"/><circle cx="221.67" cy="307.95" r="1.18" fill="#fff" fill-opacity="0.4"/>
<circle cx="222.17" cy="313.94" r="2.8" fill="#55AEE0"/><circle cx="221.67" cy="313.44" r="1.18" fill="#fff" fill-opacity="0.4"/>
<line x1="237.50" y1="306.50" x2="237.50" y2="330.70" stroke="#444" stroke-width="0.9" />
<line x1="254.50" y1="306.50" x2="254.50" y2="330.70" stroke="#444" stroke-width="0.9" />
<line x1="271.50" y1="306.50" x2="271.50" y2="330.70" stroke="#444" stroke-width="0.9" />
<line x1="288.50" y1="306.50" x2="288.50" y2="330.70" stroke="#444" stroke-width="0.9" />
<line x1="304.50" y1="306.50" x2="304.50" y2="330.70" stroke="#444" stroke-width="0.9" />
<line x1="321.50" y1="306.50" x2="321.50" y2="330.70" stroke="#444" stroke-width="0.9" />
<text x="211.0" y="303.5" font-size="11" text-anchor="start" fill="#55AEE0" textLength="13.9" lengthAdjust="spacingAndGlyphs" >Na<tspan dy="-3.63" font-size="6.6">+</tspan></text>
<text x="227.8" y="303.5" font-size="11" text-anchor="start" fill="#222" textLength="11.3" lengthAdjust="spacingAndGlyphs" >K<tspan dy="-3.63" font-size="6.6">+</tspan></text>
<text x="240.3" y="303.5" font-size="11" text-anchor="start" fill="#222" textLength="21.3" lengthAdjust="spacingAndGlyphs" >NH<tspan dy="2.42" font-size="6.6">4</tspan><tspan dy="-6.05" font-size="6.6">+</tspan></text>
<text x="263.2" y="303.5" font-size="11" text-anchor="start" fill="#222" textLength="10.3" lengthAdjust="spacingAndGlyphs" >H<tspan dy="-3.63" font-size="6.6">+</tspan></text>
<text x="275.5" y="303.5" font-size="11" text-anchor="start" fill="#222" textLength="18.8" lengthAdjust="spacingAndGlyphs" >Ca<tspan dy="-3.63" font-size="6.6">2+</tspan></text>
<text x="295.9" y="303.5" font-size="11" text-anchor="start" fill="#222" textLength="20.3" lengthAdjust="spacingAndGlyphs" >Mg<tspan dy="-3.63" font-size="6.6">2+</tspan></text>
<text x="316.6" y="303.5" font-size="11" text-anchor="start" fill="#222" textLength="17.4" lengthAdjust="spacingAndGlyphs" >Glu.</text>
<text x="328.3" y="382.5" font-size="9.2" text-anchor="end" fill="#333" stroke="#333" stroke-width="0.12" >[Na<tspan dy="-3.04" font-size="5.5">+</tspan><tspan dy="3.04">]</tspan></text>
<text x="343.0" y="289.7" font-size="24" text-anchor="start" fill="#111" stroke="#111" stroke-width="0.12" font-weight="bold">f</text>
<rect x="372.50" y="282.50" width="137.00" height="110.00" fill="none" stroke="#555" stroke-width="1"/>
<line x1="369.00" y1="392.50" x2="372.00" y2="392.50" stroke="#3a3a3a" stroke-width="1" />
<text x="368.5" y="395.5" font-size="9" text-anchor="end" fill="#222" stroke="#222" stroke-width="0.12" >230</text>
<line x1="369.00" y1="364.50" x2="372.00" y2="364.50" stroke="#3a3a3a" stroke-width="1" />
<text x="368.5" y="368.1" font-size="9" text-anchor="end" fill="#222" stroke="#222" stroke-width="0.12" >240</text>
<line x1="369.00" y1="337.50" x2="372.00" y2="337.50" stroke="#3a3a3a" stroke-width="1" />
<text x="368.5" y="340.6" font-size="9" text-anchor="end" fill="#222" stroke="#222" stroke-width="0.12" >250</text>
<line x1="369.00" y1="309.50" x2="372.00" y2="309.50" stroke="#3a3a3a" stroke-width="1" />
<text x="368.5" y="313.1" font-size="9" text-anchor="end" fill="#222" stroke="#222" stroke-width="0.12" >260</text>
<line x1="369.00" y1="282.50" x2="372.00" y2="282.50" stroke="#3a3a3a" stroke-width="1" />
<text x="368.5" y="285.7" font-size="9" text-anchor="end" fill="#222" stroke="#222" stroke-width="0.12" >270</text>
<line x1="370.20" y1="378.50" x2="372.00" y2="378.50" stroke="#3a3a3a" stroke-width="1" />
<line x1="370.20" y1="351.50" x2="372.00" y2="351.50" stroke="#3a3a3a" stroke-width="1" />
<line x1="370.20" y1="323.50" x2="372.00" y2="323.50" stroke="#3a3a3a" stroke-width="1" />
<line x1="370.20" y1="296.50" x2="372.00" y2="296.50" stroke="#3a3a3a" stroke-width="1" />
<line x1="372.50" y1="392.30" x2="372.50" y2="395.30" stroke="#3a3a3a" stroke-width="1" />
<text x="372.0" y="403.2" font-size="9" text-anchor="middle" fill="#222" stroke="#222" stroke-width="0.12" >0</text>
<line x1="406.50" y1="392.30" x2="406.50" y2="395.30" stroke="#3a3a3a" stroke-width="1" />
<text x="406.3" y="403.2" font-size="9" text-anchor="middle" fill="#222" stroke="#222" stroke-width="0.12" >100</text>
<line x1="440.50" y1="392.30" x2="440.50" y2="395.30" stroke="#3a3a3a" stroke-width="1" />
<text x="440.6" y="403.2" font-size="9" text-anchor="middle" fill="#222" stroke="#222" stroke-width="0.12" >200</text>
<line x1="474.50" y1="392.30" x2="474.50" y2="395.30" stroke="#3a3a3a" stroke-width="1" />
<text x="474.8" y="403.2" font-size="9" text-anchor="middle" fill="#222" stroke="#222" stroke-width="0.12" >300</text>
<line x1="509.50" y1="392.30" x2="509.50" y2="395.30" stroke="#3a3a3a" stroke-width="1" />
<text x="509.1" y="403.2" font-size="9" text-anchor="middle" fill="#222" stroke="#222" stroke-width="0.12" >400</text>
<line x1="389.50" y1="392.30" x2="389.50" y2="394.10" stroke="#3a3a3a" stroke-width="1" />
<line x1="423.50" y1="392.30" x2="423.50" y2="394.10" stroke="#3a3a3a" stroke-width="1" />
<line x1="457.50" y1="392.30" x2="457.50" y2="394.10" stroke="#3a3a3a" stroke-width="1" />
<line x1="491.50" y1="392.30" x2="491.50" y2="394.10" stroke="#3a3a3a" stroke-width="1" />
<text x="440.8" y="413.1" font-size="10.6" text-anchor="middle" fill="#222" textLength="35.6" lengthAdjust="spacingAndGlyphs" >Time (s)</text>
<text transform="translate(351.8,334.9) rotate(-90)" font-size="11" text-anchor="middle" fill="#111" textLength="65.3" lengthAdjust="spacingAndGlyphs">Potential (mV)</text>
<polyline points="372.00,363.48 389.14,364.85 389.14,332.73 389.14,332.73 406.27,334.11 423.41,334.66 440.55,334.66 457.69,334.11 474.83,334.66 491.96,334.66 509.10,335.20" fill="none" stroke="#62C2A8" stroke-width="1.3" stroke-linejoin="round" />
<circle cx="372.00" cy="363.48" r="3.0" fill="#62C2A8"/><circle cx="371.50" cy="362.98" r="1.26" fill="#fff" fill-opacity="0.4"/>
<circle cx="389.14" cy="364.85" r="3.0" fill="#62C2A8"/><circle cx="388.64" cy="364.35" r="1.26" fill="#fff" fill-opacity="0.4"/>
<circle cx="406.27" cy="334.11" r="3.0" fill="#62C2A8"/><circle cx="405.77" cy="333.61" r="1.26" fill="#fff" fill-opacity="0.4"/>
<circle cx="423.41" cy="334.66" r="3.0" fill="#62C2A8"/><circle cx="422.91" cy="334.16" r="1.26" fill="#fff" fill-opacity="0.4"/>
<circle cx="440.55" cy="334.66" r="3.0" fill="#62C2A8"/><circle cx="440.05" cy="334.16" r="1.26" fill="#fff" fill-opacity="0.4"/>
<circle cx="457.69" cy="334.11" r="3.0" fill="#62C2A8"/><circle cx="457.19" cy="333.61" r="1.26" fill="#fff" fill-opacity="0.4"/>
<circle cx="474.83" cy="334.66" r="3.0" fill="#62C2A8"/><circle cx="474.33" cy="334.16" r="1.26" fill="#fff" fill-opacity="0.4"/>
<circle cx="491.96" cy="334.66" r="3.0" fill="#62C2A8"/><circle cx="491.46" cy="334.16" r="1.26" fill="#fff" fill-opacity="0.4"/>
<circle cx="509.10" cy="335.20" r="3.0" fill="#62C2A8"/><circle cx="508.60" cy="334.70" r="1.26" fill="#fff" fill-opacity="0.4"/>
<line x1="391.54" y1="307.21" x2="391.54" y2="329.17" stroke="#62C2A8" stroke-width="1.3" stroke-dasharray="3.6,2.0"/>
<circle cx="391.54" cy="307.21" r="2.8" fill="#62C2A8"/><circle cx="391.04" cy="306.71" r="1.18" fill="#fff" fill-opacity="0.4"/>
<circle cx="391.54" cy="329.17" r="2.8" fill="#62C2A8"/><circle cx="391.04" cy="328.67" r="1.18" fill="#fff" fill-opacity="0.4"/>
<line x1="407.50" y1="306.90" x2="407.50" y2="332.00" stroke="#444" stroke-width="0.9" />
<line x1="424.50" y1="306.90" x2="424.50" y2="332.00" stroke="#444" stroke-width="0.9" />
<line x1="441.50" y1="306.90" x2="441.50" y2="332.00" stroke="#444" stroke-width="0.9" />
<line x1="458.50" y1="306.90" x2="458.50" y2="332.00" stroke="#444" stroke-width="0.9" />
<line x1="474.50" y1="306.90" x2="474.50" y2="332.00" stroke="#444" stroke-width="0.9" />
<line x1="491.50" y1="306.90" x2="491.50" y2="332.00" stroke="#444" stroke-width="0.9" />
<text x="382.9" y="303.5" font-size="11" text-anchor="start" fill="#62C2A8" textLength="11.0" lengthAdjust="spacingAndGlyphs" >K<tspan dy="-3.63" font-size="6.6">+</tspan></text>
<text x="395.8" y="303.5" font-size="11" text-anchor="start" fill="#222" textLength="15.9" lengthAdjust="spacingAndGlyphs" >Na<tspan dy="-3.63" font-size="6.6">+</tspan></text>
<text x="412.3" y="303.5" font-size="11" text-anchor="start" fill="#222" textLength="10.3" lengthAdjust="spacingAndGlyphs" >H<tspan dy="-3.63" font-size="6.6">+</tspan></text>
<text x="423.6" y="303.5" font-size="11" text-anchor="start" fill="#222" textLength="21.9" lengthAdjust="spacingAndGlyphs" >NH<tspan dy="2.42" font-size="6.6">4</tspan><tspan dy="-6.05" font-size="6.6">+</tspan></text>
<text x="446.9" y="303.5" font-size="11" text-anchor="start" fill="#222" textLength="19.0" lengthAdjust="spacingAndGlyphs" >Ca<tspan dy="-3.63" font-size="6.6">2+</tspan></text>
<text x="467.3" y="303.5" font-size="11" text-anchor="start" fill="#222" textLength="19.9" lengthAdjust="spacingAndGlyphs" >Mg<tspan dy="-3.63" font-size="6.6">2+</tspan></text>
<text x="487.4" y="303.5" font-size="11" text-anchor="start" fill="#222" textLength="17.6" lengthAdjust="spacingAndGlyphs" >Glu.</text>
<text x="498.1" y="382.5" font-size="9.2" text-anchor="end" fill="#333" stroke="#333" stroke-width="0.12" >[K<tspan dy="-3.04" font-size="5.5">+</tspan><tspan dy="3.04">]</tspan></text>
<text x="510.5" y="289.7" font-size="24" text-anchor="start" fill="#111" stroke="#111" stroke-width="0.12" font-weight="bold">g</text>
<rect x="541.50" y="282.50" width="137.00" height="110.00" fill="none" stroke="#555" stroke-width="1"/>
<line x1="538.30" y1="380.50" x2="541.30" y2="380.50" stroke="#3a3a3a" stroke-width="1" />
<text x="537.8" y="383.3" font-size="9" text-anchor="end" fill="#222" stroke="#222" stroke-width="0.12" >240</text>
<line x1="538.30" y1="355.50" x2="541.30" y2="355.50" stroke="#3a3a3a" stroke-width="1" />
<text x="537.8" y="358.9" font-size="9" text-anchor="end" fill="#222" stroke="#222" stroke-width="0.12" >260</text>
<line x1="538.30" y1="331.50" x2="541.30" y2="331.50" stroke="#3a3a3a" stroke-width="1" />
<text x="537.8" y="334.5" font-size="9" text-anchor="end" fill="#222" stroke="#222" stroke-width="0.12" >280</text>
<line x1="538.30" y1="306.50" x2="541.30" y2="306.50" stroke="#3a3a3a" stroke-width="1" />
<text x="537.8" y="310.1" font-size="9" text-anchor="end" fill="#222" stroke="#222" stroke-width="0.12" >300</text>
<line x1="538.30" y1="282.50" x2="541.30" y2="282.50" stroke="#3a3a3a" stroke-width="1" />
<text x="537.8" y="285.7" font-size="9" text-anchor="end" fill="#222" stroke="#222" stroke-width="0.12" >320</text>
<line x1="539.50" y1="392.50" x2="541.30" y2="392.50" stroke="#3a3a3a" stroke-width="1" />
<line x1="539.50" y1="367.50" x2="541.30" y2="367.50" stroke="#3a3a3a" stroke-width="1" />
<line x1="539.50" y1="343.50" x2="541.30" y2="343.50" stroke="#3a3a3a" stroke-width="1" />
<line x1="539.50" y1="319.50" x2="541.30" y2="319.50" stroke="#3a3a3a" stroke-width="1" />
<line x1="539.50" y1="294.50" x2="541.30" y2="294.50" stroke="#3a3a3a" stroke-width="1" />
<line x1="541.50" y1="392.30" x2="541.50" y2="395.30" stroke="#3a3a3a" stroke-width="1" />
<text x="541.3" y="403.2" font-size="9" text-anchor="middle" fill="#222" stroke="#222" stroke-width="0.12" >0</text>
<line x1="575.50" y1="392.30" x2="575.50" y2="395.30" stroke="#3a3a3a" stroke-width="1" />
<text x="575.5" y="403.2" font-size="9" text-anchor="middle" fill="#222" stroke="#222" stroke-width="0.12" >100</text>
<line x1="609.50" y1="392.30" x2="609.50" y2="395.30" stroke="#3a3a3a" stroke-width="1" />
<text x="609.6" y="403.2" font-size="9" text-anchor="middle" fill="#222" stroke="#222" stroke-width="0.12" >200</text>
<line x1="643.50" y1="392.30" x2="643.50" y2="395.30" stroke="#3a3a3a" stroke-width="1" />
<text x="643.8" y="403.2" font-size="9" text-anchor="middle" fill="#222" stroke="#222" stroke-width="0.12" >300</text>
<line x1="678.50" y1="392.30" x2="678.50" y2="395.30" stroke="#3a3a3a" stroke-width="1" />
<text x="678.0" y="403.2" font-size="9" text-anchor="middle" fill="#222" stroke="#222" stroke-width="0.12" >400</text>
<line x1="558.50" y1="392.30" x2="558.50" y2="394.10" stroke="#3a3a3a" stroke-width="1" />
<line x1="592.50" y1="392.30" x2="592.50" y2="394.10" stroke="#3a3a3a" stroke-width="1" />
<line x1="626.50" y1="392.30" x2="626.50" y2="394.10" stroke="#3a3a3a" stroke-width="1" />
<line x1="660.50" y1="392.30" x2="660.50" y2="394.10" stroke="#3a3a3a" stroke-width="1" />
<text x="609.5" y="413.1" font-size="10.6" text-anchor="middle" fill="#222" textLength="35.6" lengthAdjust="spacingAndGlyphs" >Time (s)</text>
<text transform="translate(520.4,334.0) rotate(-90)" font-size="11" text-anchor="middle" fill="#111" textLength="63.7" lengthAdjust="spacingAndGlyphs">Potential (mV)</text>
<polyline points="541.30,375.83 558.39,376.44 558.39,339.84 558.39,339.84 575.47,339.84 592.56,339.84 609.65,339.84 626.74,339.60 643.83,339.47 660.91,339.35 678.00,339.23" fill="none" stroke="#E2505A" stroke-width="1.3" stroke-linejoin="round" />
<circle cx="541.30" cy="375.83" r="3.0" fill="#E2505A"/><circle cx="540.80" cy="375.33" r="1.26" fill="#fff" fill-opacity="0.4"/>
<circle cx="558.39" cy="376.44" r="3.0" fill="#E2505A"/><circle cx="557.89" cy="375.94" r="1.26" fill="#fff" fill-opacity="0.4"/>
<circle cx="575.47" cy="339.84" r="3.0" fill="#E2505A"/><circle cx="574.97" cy="339.34" r="1.26" fill="#fff" fill-opacity="0.4"/>
<circle cx="592.56" cy="339.84" r="3.0" fill="#E2505A"/><circle cx="592.06" cy="339.34" r="1.26" fill="#fff" fill-opacity="0.4"/>
<circle cx="609.65" cy="339.84" r="3.0" fill="#E2505A"/><circle cx="609.15" cy="339.34" r="1.26" fill="#fff" fill-opacity="0.4"/>
<circle cx="626.74" cy="339.60" r="3.0" fill="#E2505A"/><circle cx="626.24" cy="339.10" r="1.26" fill="#fff" fill-opacity="0.4"/>
<circle cx="643.83" cy="339.47" r="3.0" fill="#E2505A"/><circle cx="643.33" cy="338.97" r="1.26" fill="#fff" fill-opacity="0.4"/>
<circle cx="660.91" cy="339.35" r="3.0" fill="#E2505A"/><circle cx="660.41" cy="338.85" r="1.26" fill="#fff" fill-opacity="0.4"/>
<circle cx="678.00" cy="339.23" r="3.0" fill="#E2505A"/><circle cx="677.50" cy="338.73" r="1.26" fill="#fff" fill-opacity="0.4"/>
<line x1="560.78" y1="308.12" x2="560.78" y2="333.74" stroke="#E2505A" stroke-width="1.3" stroke-dasharray="3.6,2.0"/>
<circle cx="560.78" cy="308.12" r="2.8" fill="#E2505A"/><circle cx="560.28" cy="307.62" r="1.18" fill="#fff" fill-opacity="0.4"/>
<circle cx="560.78" cy="333.74" r="2.8" fill="#E2505A"/><circle cx="560.28" cy="333.24" r="1.18" fill="#fff" fill-opacity="0.4"/>
<line x1="577.50" y1="308.40" x2="577.50" y2="333.70" stroke="#444" stroke-width="0.9" />
<line x1="594.50" y1="308.40" x2="594.50" y2="333.70" stroke="#444" stroke-width="0.9" />
<line x1="610.50" y1="308.40" x2="610.50" y2="333.70" stroke="#444" stroke-width="0.9" />
<line x1="627.50" y1="308.40" x2="627.50" y2="333.70" stroke="#444" stroke-width="0.9" />
<line x1="644.50" y1="308.40" x2="644.50" y2="333.70" stroke="#444" stroke-width="0.9" />
<line x1="660.50" y1="308.40" x2="660.50" y2="333.70" stroke="#444" stroke-width="0.9" />
<text x="551.0" y="302.5" font-size="11" text-anchor="start" fill="#E2505A" textLength="17.8" lengthAdjust="spacingAndGlyphs" >Ca<tspan dy="-3.63" font-size="6.6">2+</tspan></text>
<text x="569.8" y="302.5" font-size="11" text-anchor="start" fill="#222" textLength="15.9" lengthAdjust="spacingAndGlyphs" >Na<tspan dy="-3.63" font-size="6.6">+</tspan></text>
<text x="587.7" y="302.5" font-size="11" text-anchor="start" fill="#222" textLength="10.5" lengthAdjust="spacingAndGlyphs" >H<tspan dy="-3.63" font-size="6.6">+</tspan></text>
<text x="600.6" y="302.5" font-size="11" text-anchor="start" fill="#222" textLength="22.2" lengthAdjust="spacingAndGlyphs" >NH<tspan dy="2.42" font-size="6.6">4</tspan><tspan dy="-6.05" font-size="6.6">+</tspan></text>
<text x="623.4" y="302.5" font-size="11" text-anchor="start" fill="#222" textLength="11.3" lengthAdjust="spacingAndGlyphs" >K<tspan dy="-3.63" font-size="6.6">+</tspan></text>
<text x="636.7" y="302.5" font-size="11" text-anchor="start" fill="#222" textLength="21.1" lengthAdjust="spacingAndGlyphs" >Mg<tspan dy="-3.63" font-size="6.6">2+</tspan></text>
<text x="658.6" y="302.5" font-size="11" text-anchor="start" fill="#222" textLength="17.4" lengthAdjust="spacingAndGlyphs" >Glu.</text>
<text x="667.0" y="382.5" font-size="9.2" text-anchor="end" fill="#333" stroke="#333" stroke-width="0.12" >[Ca<tspan dy="-3.04" font-size="5.5">2+</tspan><tspan dy="3.04">]</tspan></text>
<text x="0.0" y="430.6" font-size="24" text-anchor="start" fill="#111" stroke="#111" stroke-width="0.12" >h</text>
<rect x="32.50" y="418.50" width="137.00" height="109.00" fill="none" stroke="#555" stroke-width="1"/>
<line x1="29.40" y1="514.50" x2="32.40" y2="514.50" stroke="#3a3a3a" stroke-width="1" />
<text x="28.9" y="517.2" font-size="9" text-anchor="end" fill="#222" stroke="#222" stroke-width="0.12" >450</text>
<line x1="29.40" y1="486.50" x2="32.40" y2="486.50" stroke="#3a3a3a" stroke-width="1" />
<text x="28.9" y="489.7" font-size="9" text-anchor="end" fill="#222" stroke="#222" stroke-width="0.12" >460</text>
<line x1="29.40" y1="459.50" x2="32.40" y2="459.50" stroke="#3a3a3a" stroke-width="1" />
<text x="28.9" y="462.2" font-size="9" text-anchor="end" fill="#222" stroke="#222" stroke-width="0.12" >470</text>
<line x1="29.40" y1="431.50" x2="32.40" y2="431.50" stroke="#3a3a3a" stroke-width="1" />
<text x="28.9" y="434.7" font-size="9" text-anchor="end" fill="#222" stroke="#222" stroke-width="0.12" >480</text>
<line x1="30.60" y1="500.50" x2="32.40" y2="500.50" stroke="#3a3a3a" stroke-width="1" />
<line x1="30.60" y1="472.50" x2="32.40" y2="472.50" stroke="#3a3a3a" stroke-width="1" />
<line x1="30.60" y1="445.50" x2="32.40" y2="445.50" stroke="#3a3a3a" stroke-width="1" />
<line x1="32.50" y1="527.40" x2="32.50" y2="530.40" stroke="#3a3a3a" stroke-width="1" />
<text x="32.4" y="538.5" font-size="9" text-anchor="middle" fill="#222" stroke="#222" stroke-width="0.12" >0</text>
<line x1="63.50" y1="527.40" x2="63.50" y2="530.40" stroke="#3a3a3a" stroke-width="1" />
<text x="63.6" y="538.5" font-size="9" text-anchor="middle" fill="#222" stroke="#222" stroke-width="0.12" >120</text>
<line x1="94.50" y1="527.40" x2="94.50" y2="530.40" stroke="#3a3a3a" stroke-width="1" />
<text x="94.8" y="538.5" font-size="9" text-anchor="middle" fill="#222" stroke="#222" stroke-width="0.12" >240</text>
<line x1="126.50" y1="527.40" x2="126.50" y2="530.40" stroke="#3a3a3a" stroke-width="1" />
<text x="126.0" y="538.5" font-size="9" text-anchor="middle" fill="#222" stroke="#222" stroke-width="0.12" >360</text>
<line x1="157.50" y1="527.40" x2="157.50" y2="530.40" stroke="#3a3a3a" stroke-width="1" />
<text x="157.2" y="538.5" font-size="9" text-anchor="middle" fill="#222" stroke="#222" stroke-width="0.12" >480</text>
<line x1="48.50" y1="527.40" x2="48.50" y2="529.20" stroke="#3a3a3a" stroke-width="1" />
<line x1="79.50" y1="527.40" x2="79.50" y2="529.20" stroke="#3a3a3a" stroke-width="1" />
<line x1="110.50" y1="527.40" x2="110.50" y2="529.20" stroke="#3a3a3a" stroke-width="1" />
<line x1="141.50" y1="527.40" x2="141.50" y2="529.20" stroke="#3a3a3a" stroke-width="1" />
<text x="102.5" y="548.6" font-size="10.6" text-anchor="middle" fill="#222" textLength="36.9" lengthAdjust="spacingAndGlyphs" >Time (s)</text>
<text transform="translate(10.2,472.6) rotate(-90)" font-size="11" text-anchor="middle" fill="#111" textLength="63.6" lengthAdjust="spacingAndGlyphs">Resistance (Ω)</text>
<text x="161.6" y="432.3" font-size="9.2" text-anchor="end" fill="#333" stroke="#333" stroke-width="0.12" >[Temperature](°C)</text>
<line x1="32.40" y1="519.50" x2="48.00" y2="519.50" stroke="#B487CC" stroke-width="1.4" />
<text x="40.2" y="516.5" font-size="9.5" text-anchor="middle" fill="#222" stroke="#222" stroke-width="0.12" >25</text>
<line x1="48.00" y1="500.80" x2="63.60" y2="500.80" stroke="#B487CC" stroke-width="1.4" />
<line x1="48.50" y1="519.50" x2="48.50" y2="500.80" stroke="#333" stroke-width="0.8" stroke-dasharray="1,1"/>
<text x="55.8" y="497.8" font-size="9.5" text-anchor="middle" fill="#222" stroke="#222" stroke-width="0.12" >30</text>
<line x1="63.60" y1="484.30" x2="79.20" y2="484.30" stroke="#B487CC" stroke-width="1.4" />
<line x1="63.50" y1="500.80" x2="63.50" y2="484.30" stroke="#333" stroke-width="0.8" stroke-dasharray="1,1"/>
<text x="71.4" y="481.3" font-size="9.5" text-anchor="middle" fill="#222" stroke="#222" stroke-width="0.12" >35</text>
<line x1="79.20" y1="470.00" x2="94.80" y2="470.00" stroke="#B487CC" stroke-width="1.4" />
<line x1="79.50" y1="484.30" x2="79.50" y2="470.00" stroke="#333" stroke-width="0.8" stroke-dasharray="1,1"/>
<text x="87.0" y="467.0" font-size="9.5" text-anchor="middle" fill="#222" stroke="#222" stroke-width="0.12" >40</text>
<line x1="94.80" y1="452.12" x2="110.40" y2="452.12" stroke="#B487CC" stroke-width="1.4" />
<line x1="94.50" y1="470.00" x2="94.50" y2="452.12" stroke="#333" stroke-width="0.8" stroke-dasharray="1,1"/>
<text x="102.6" y="449.1" font-size="9.5" text-anchor="middle" fill="#222" stroke="#222" stroke-width="0.12" >45</text>
<line x1="110.40" y1="469.45" x2="126.00" y2="469.45" stroke="#B487CC" stroke-width="1.4" />
<line x1="110.50" y1="452.12" x2="110.50" y2="469.45" stroke="#333" stroke-width="0.8" stroke-dasharray="1,1"/>
<text x="118.2" y="466.5" font-size="9.5" text-anchor="middle" fill="#222" stroke="#222" stroke-width="0.12" >40</text>
<line x1="126.00" y1="484.30" x2="141.60" y2="484.30" stroke="#B487CC" stroke-width="1.4" />
<line x1="126.50" y1="469.45" x2="126.50" y2="484.30" stroke="#333" stroke-width="0.8" stroke-dasharray="1,1"/>
<text x="133.8" y="481.3" font-size="9.5" text-anchor="middle" fill="#222" stroke="#222" stroke-width="0.12" >35</text>
<line x1="141.60" y1="500.25" x2="157.20" y2="500.25" stroke="#B487CC" stroke-width="1.4" />
<line x1="141.50" y1="484.30" x2="141.50" y2="500.25" stroke="#333" stroke-width="0.8" stroke-dasharray="1,1"/>
<text x="149.4" y="497.2" font-size="9.5" text-anchor="middle" fill="#222" stroke="#222" stroke-width="0.12" >30</text>
<line x1="157.20" y1="518.95" x2="169.00" y2="518.95" stroke="#B487CC" stroke-width="1.4" />
<line x1="157.50" y1="500.25" x2="157.50" y2="518.95" stroke="#333" stroke-width="0.8" stroke-dasharray="1,1"/>
<text x="163.1" y="516.0" font-size="9.5" text-anchor="middle" fill="#222" stroke="#222" stroke-width="0.12" >25</text>
<text x="177.5" y="430.7" font-size="24" text-anchor="start" fill="#111" stroke="#111" stroke-width="0.12" >i</text>
<ellipse cx="249.90" cy="452.60" rx="29.8" ry="15.5" transform="rotate(0 249.90 452.60)" fill="#FBF3E5"/>
<ellipse cx="293.40" cy="488.00" rx="24" ry="36" transform="rotate(25 293.40 488.00)" fill="#FDE9E9"/>
<ellipse cx="357.80" cy="472.30" rx="36" ry="17.5" transform="rotate(32 357.80 472.30)" fill="#FBF3E5"/>
<ellipse cx="408.00" cy="467.50" rx="27" ry="11.5" transform="rotate(-55 408.00 467.50)" fill="#FDE9E9"/>
<ellipse cx="455.70" cy="489.00" rx="15" ry="10.5" transform="rotate(0 455.70 489.00)" fill="#FBF3E5"/>
<ellipse cx="498.40" cy="482.40" rx="25" ry="18.8" transform="rotate(10 498.40 482.40)" fill="#FDE9E9"/>
<ellipse cx="562.50" cy="491.20" rx="14.2" ry="18.2" transform="rotate(-10 562.50 491.20)" fill="#FBF3E5"/>
<ellipse cx="611.50" cy="474.80" rx="42" ry="20" transform="rotate(-57 611.50 474.80)" fill="#FDE9E9"/>
<rect x="217.50" y="417.50" width="431.00" height="117.00" fill="none" stroke="#333" stroke-width="1"/>
<line x1="325.50" y1="417.40" x2="325.50" y2="534.50" stroke="#222" stroke-width="1" />
<line x1="432.50" y1="417.40" x2="432.50" y2="534.50" stroke="#222" stroke-width="1" />
<line x1="540.50" y1="417.40" x2="540.50" y2="534.50" stroke="#222" stroke-width="1" />
<line x1="214.40" y1="534.50" x2="217.40" y2="534.50" stroke="#3a3a3a" stroke-width="1" />
<line x1="648.30" y1="534.50" x2="651.30" y2="534.50" stroke="#3a3a3a" stroke-width="1" />
<text x="213.9" y="537.7" font-size="9" text-anchor="end" fill="#222" stroke="#222" stroke-width="0.12" >0</text>
<text x="649.8" y="538.8" font-size="9" text-anchor="start" fill="#222" stroke="#222" stroke-width="0.12" >0</text>
<line x1="214.40" y1="505.50" x2="217.40" y2="505.50" stroke="#3a3a3a" stroke-width="1" />
<line x1="648.30" y1="505.50" x2="651.30" y2="505.50" stroke="#3a3a3a" stroke-width="1" />
<text x="213.9" y="508.4" font-size="9" text-anchor="end" fill="#222" stroke="#222" stroke-width="0.12" >20</text>
<text x="649.8" y="509.5" font-size="9" text-anchor="start" fill="#222" stroke="#222" stroke-width="0.12" >20</text>
<line x1="214.40" y1="475.50" x2="217.40" y2="475.50" stroke="#3a3a3a" stroke-width="1" />
<line x1="648.30" y1="475.50" x2="651.30" y2="475.50" stroke="#3a3a3a" stroke-width="1" />
<text x="213.9" y="479.1" font-size="9" text-anchor="end" fill="#222" stroke="#222" stroke-width="0.12" >40</text>
<text x="649.8" y="480.2" font-size="9" text-anchor="start" fill="#222" stroke="#222" stroke-width="0.12" >40</text>
<line x1="214.40" y1="446.50" x2="217.40" y2="446.50" stroke="#3a3a3a" stroke-width="1" />
<line x1="648.30" y1="446.50" x2="651.30" y2="446.50" stroke="#3a3a3a" stroke-width="1" />
<text x="213.9" y="449.9" font-size="9" text-anchor="end" fill="#222" stroke="#222" stroke-width="0.12" >60</text>
<text x="649.8" y="451.0" font-size="9" text-anchor="start" fill="#222" stroke="#222" stroke-width="0.12" >60</text>
<line x1="214.40" y1="417.50" x2="217.40" y2="417.50" stroke="#3a3a3a" stroke-width="1" />
<line x1="648.30" y1="417.50" x2="651.30" y2="417.50" stroke="#3a3a3a" stroke-width="1" />
<text x="213.9" y="420.6" font-size="9" text-anchor="end" fill="#222" stroke="#222" stroke-width="0.12" >80</text>
<text x="649.8" y="421.7" font-size="9" text-anchor="start" fill="#222" stroke="#222" stroke-width="0.12" >80</text>
<text transform="translate(198.8,476.0) rotate(-90)" font-size="11" text-anchor="middle" fill="#111" textLength="96.6" lengthAdjust="spacingAndGlyphs">Sensitivity(mV·pH<tspan dy="-3.63" font-size="6.6">-1</tspan><tspan dy="3.63">)</tspan></text>
<text transform="translate(670.0,475.9) rotate(-90)" font-size="11" text-anchor="middle" fill="#111" textLength="101.2" lengthAdjust="spacingAndGlyphs">Sensitivity(mV·dec<tspan dy="-3.63" font-size="6.6">-1</tspan><tspan dy="3.63">)</tspan></text>
<polygon points="229.80,453.20 226.77,451.45 226.77,447.95 229.80,446.20 232.83,447.95 232.83,451.45" fill="#3A62A8"/>
<polygon points="242.00,450.10 238.97,448.35 238.97,444.85 242.00,443.10 245.03,444.85 245.03,448.35" fill="#B487CC"/>
<polygon points="253.70,456.10 250.67,454.35 250.67,450.85 253.70,449.10 256.73,450.85 256.73,454.35" fill="#EDBB5A"/>
<polygon points="265.80,454.90 262.77,453.15 262.77,449.65 265.80,447.90 268.83,449.65 268.83,453.15" fill="#6E6E6E"/>
<circle cx="278.00" cy="485.20" r="3.3" fill="#5E9A50"/><circle cx="277.30" cy="484.50" r="1.32" fill="#fff" fill-opacity="0.7"/>
<circle cx="289.70" cy="493.40" r="3.3" fill="#55AEE0"/><circle cx="289.00" cy="492.70" r="1.32" fill="#fff" fill-opacity="0.7"/>
<circle cx="301.10" cy="475.70" r="3.3" fill="#62C2A8"/><circle cx="300.40" cy="475.00" r="1.32" fill="#fff" fill-opacity="0.7"/>
<circle cx="313.30" cy="476.40" r="3.3" fill="#E2505A"/><circle cx="312.60" cy="475.70" r="1.32" fill="#fff" fill-opacity="0.7"/>
<text x="227.6" y="442.6" font-size="10.4" text-anchor="middle" fill="#5277b8" stroke="#5277b8" stroke-width="0.1" >[43]</text>
<text x="244.8" y="440.4" font-size="10.4" text-anchor="middle" fill="#a884c8" stroke="#a884c8" stroke-width="0.1" >[44]</text>
<text x="264.7" y="444.8" font-size="10.4" text-anchor="middle" fill="#777777" stroke="#777777" stroke-width="0.1" >[45]</text>
<text x="257.4" y="464.0" font-size="10.4" text-anchor="middle" fill="#e9b860" stroke="#e9b860" stroke-width="0.1" >[22]</text>
<text x="299.0" y="469.8" font-size="10.4" text-anchor="middle" fill="#6cc2ae" stroke="#6cc2ae" stroke-width="0.1" >[55]</text>
<text x="274.6" y="497.2" font-size="10.4" text-anchor="middle" fill="#68a060" stroke="#68a060" stroke-width="0.1" >[21]</text>
<text x="290.5" y="506.0" font-size="10.4" text-anchor="middle" fill="#66b2e2" stroke="#66b2e2" stroke-width="0.1" >[54]</text>
<text x="309.5" y="489.7" font-size="10" text-anchor="middle" fill="#E2505A" stroke="#E2505A" stroke-width="0.12" >This</text>
<text x="309.5" y="501.6" font-size="10" text-anchor="middle" fill="#E2505A" stroke="#E2505A" stroke-width="0.12" >work</text>
<text x="248.0" y="483.5" font-size="10.4" text-anchor="middle" fill="#111" stroke="#111" stroke-width="0.12" >patch</text>
<text x="267.4" y="526.5" font-size="10.4" text-anchor="middle" fill="#111" stroke="#111" stroke-width="0.12" >fiber</text>
<text x="312.2" y="432.7" font-size="10.2" text-anchor="middle" fill="#222" stroke="#222" stroke-width="0.12" >[pH]</text>
<line x1="249.20" y1="474.00" x2="245.35" y2="466.50" stroke="#111" stroke-width="0.9" />
<polygon points="243.30,462.50 247.58,465.36 243.13,467.65" fill="#111"/>
<line x1="269.00" y1="518.80" x2="275.46" y2="509.32" stroke="#111" stroke-width="0.9" />
<polygon points="278.00,505.60 277.53,510.73 273.40,507.91" fill="#111"/>
<polygon points="336.70,462.20 333.67,460.45 333.67,456.95 336.70,455.20 339.73,456.95 339.73,460.45" fill="#3A62A8"/>
<polygon points="349.00,467.50 345.97,465.75 345.97,462.25 349.00,460.50 352.03,462.25 352.03,465.75" fill="#B487CC"/>
<polygon points="361.00,469.70 357.97,467.95 357.97,464.45 361.00,462.70 364.03,464.45 364.03,467.95" fill="#EDBB5A"/>
<polygon points="372.70,474.80 369.67,473.05 369.67,469.55 372.70,467.80 375.73,469.55 375.73,473.05" fill="#6E6E6E"/>
<polygon points="385.30,492.90 382.27,491.15 382.27,487.65 385.30,485.90 388.33,487.65 388.33,491.15" fill="#5E9A50"/>
<circle cx="397.00" cy="484.60" r="3.3" fill="#55AEE0"/><circle cx="396.30" cy="483.90" r="1.32" fill="#fff" fill-opacity="0.7"/>
<circle cx="408.00" cy="467.40" r="3.3" fill="#62C2A8"/><circle cx="407.30" cy="466.70" r="1.32" fill="#fff" fill-opacity="0.7"/>
<circle cx="420.90" cy="452.10" r="3.3" fill="#E2505A"/><circle cx="420.20" cy="451.40" r="1.32" fill="#fff" fill-opacity="0.7"/>
<circle cx="397.00" cy="444.80" r="2.0" fill="#555"/><circle cx="396.30" cy="444.10" r="0.80" fill="#fff" fill-opacity="0.7"/>
<text x="333.0" y="451.4" font-size="10.4" text-anchor="middle" fill="#5277b8" stroke="#5277b8" stroke-width="0.1" >[41]</text>
<text x="347.3" y="459.2" font-size="10.4" text-anchor="middle" fill="#a884c8" stroke="#a884c8" stroke-width="0.1" >[24]</text>
<text x="360.1" y="477.5" font-size="10.4" text-anchor="middle" fill="#e9b860" stroke="#e9b860" stroke-width="0.1" >[46]</text>
<text x="373.8" y="465.4" font-size="10.4" text-anchor="middle" fill="#777777" stroke="#777777" stroke-width="0.1" >[47]</text>
<text x="379.3" y="483.0" font-size="10.4" text-anchor="middle" fill="#68a060" stroke="#68a060" stroke-width="0.1" >[48]</text>
<text x="395.9" y="479.0" font-size="10.4" text-anchor="middle" fill="#66b2e2" stroke="#66b2e2" stroke-width="0.1" >[56]</text>
<text x="416.9" y="472.9" font-size="10.4" text-anchor="middle" fill="#6cc2ae" stroke="#6cc2ae" stroke-width="0.1" >[55]</text>
<text x="402.5" y="446.4" font-size="10" text-anchor="middle" fill="#E2505A" stroke="#E2505A" stroke-width="0.12" >This</text>
<text x="402.5" y="458.7" font-size="10" text-anchor="middle" fill="#E2505A" stroke="#E2505A" stroke-width="0.12" >work</text>
<text x="346.9" y="505.6" font-size="10.4" text-anchor="middle" fill="#111" stroke="#111" stroke-width="0.12" >patch</text>
<text x="410.9" y="507.8" font-size="10.4" text-anchor="middle" fill="#111" stroke="#111" stroke-width="0.12" >fiber</text>
<text x="415.8" y="433.1" font-size="10.2" text-anchor="middle" fill="#222" stroke="#222" stroke-width="0.12" >[Na<tspan dy="-3.37" font-size="6.1">+</tspan><tspan dy="3.37">]</tspan></text>
<line x1="341.00" y1="496.70" x2="345.96" y2="488.98" stroke="#111" stroke-width="0.9" />
<polygon points="348.40,485.20 348.07,490.34 343.86,487.63" fill="#111"/>
<line x1="409.10" y1="500.00" x2="405.55" y2="490.32" stroke="#111" stroke-width="0.9" />
<polygon points="404.00,486.10 407.90,489.46 403.20,491.19" fill="#111"/>
<polygon points="450.40,491.40 447.37,489.65 447.37,486.15 450.40,484.40 453.43,486.15 453.43,489.65" fill="#B487CC"/>
<polygon points="468.60,493.60 465.57,491.85 465.57,488.35 468.60,486.60 471.63,488.35 471.63,491.85" fill="#EDBB5A"/>
<circle cx="486.70" cy="481.70" r="3.3" fill="#55AEE0"/><circle cx="486.00" cy="481.00" r="1.32" fill="#fff" fill-opacity="0.7"/>
<circle cx="504.60" cy="495.00" r="3.3" fill="#62C2A8"/><circle cx="503.90" cy="494.30" r="1.32" fill="#fff" fill-opacity="0.7"/>
<circle cx="522.20" cy="485.00" r="3.3" fill="#E2505A"/><circle cx="521.50" cy="484.30" r="1.32" fill="#fff" fill-opacity="0.7"/>
<text x="448.7" y="482.4" font-size="10.4" text-anchor="middle" fill="#a884c8" stroke="#a884c8" stroke-width="0.1" >[41]</text>
<text x="467.4" y="504.5" font-size="10.4" text-anchor="middle" fill="#e9b860" stroke="#e9b860" stroke-width="0.1" >[25]</text>
<text x="485.8" y="475.7" font-size="10.4" text-anchor="middle" fill="#66b2e2" stroke="#66b2e2" stroke-width="0.1" >[55]</text>
<text x="503.9" y="509.5" font-size="10.4" text-anchor="middle" fill="#6cc2ae" stroke="#6cc2ae" stroke-width="0.1" >[57]</text>
<text x="521.1" y="468.0" font-size="10" text-anchor="middle" fill="#E2505A" stroke="#E2505A" stroke-width="0.12" >This</text>
<text x="521.1" y="480.2" font-size="10" text-anchor="middle" fill="#E2505A" stroke="#E2505A" stroke-width="0.12" >work</text>
<text x="491.7" y="452.6" font-size="10.4" text-anchor="middle" fill="#111" stroke="#111" stroke-width="0.12" >fiber</text>
<text x="448.7" y="517.0" font-size="10.4" text-anchor="middle" fill="#111" stroke="#111" stroke-width="0.12" >patch</text>
<text x="524.9" y="432.7" font-size="10.2" text-anchor="middle" fill="#222" stroke="#222" stroke-width="0.12" >[K<tspan dy="-3.37" font-size="6.1">+</tspan><tspan dy="3.37">]</tspan></text>
<line x1="441.00" y1="507.80" x2="446.37" y2="500.78" stroke="#111" stroke-width="0.9" />
<polygon points="449.10,497.20 448.35,502.29 444.38,499.26" fill="#111"/>
<line x1="494.00" y1="454.80" x2="496.67" y2="461.24" stroke="#111" stroke-width="0.9" />
<polygon points="498.40,465.40 494.37,462.20 498.98,460.29" fill="#111"/>
<polygon points="557.80,490.00 554.77,488.25 554.77,484.75 557.80,483.00 560.83,484.75 560.83,488.25" fill="#B487CC"/>
<polygon points="576.00,494.70 572.97,492.95 572.97,489.45 576.00,487.70 579.03,489.45 579.03,492.95" fill="#EDBB5A"/>
<circle cx="593.90" cy="491.70" r="3.3" fill="#55AEE0"/><circle cx="593.20" cy="491.00" r="1.32" fill="#fff" fill-opacity="0.7"/>
<circle cx="612.00" cy="490.00" r="3.3" fill="#E2505A"/><circle cx="611.30" cy="489.30" r="1.32" fill="#fff" fill-opacity="0.7"/>
<circle cx="629.70" cy="457.80" r="3.3" fill="#62C2A8"/><circle cx="629.00" cy="457.10" r="1.32" fill="#fff" fill-opacity="0.7"/>
<text x="555.0" y="480.6" font-size="10.4" text-anchor="middle" fill="#a884c8" stroke="#a884c8" stroke-width="0.1" >[49]</text>
<text x="572.4" y="503.0" font-size="10.4" text-anchor="middle" fill="#e9b860" stroke="#e9b860" stroke-width="0.1" >[50]</text>
<text x="590.3" y="486.5" font-size="10.4" text-anchor="middle" fill="#66b2e2" stroke="#66b2e2" stroke-width="0.1" >[54]</text>
<text x="626.8" y="451.2" font-size="10.4" text-anchor="middle" fill="#6cc2ae" stroke="#6cc2ae" stroke-width="0.1" >[55]</text>
<text x="626.6" y="478.3" font-size="10" text-anchor="middle" fill="#E2505A" stroke="#E2505A" stroke-width="0.12" >This</text>
<text x="626.6" y="491.2" font-size="10" text-anchor="middle" fill="#E2505A" stroke="#E2505A" stroke-width="0.12" >work</text>
<text x="615.0" y="517.1" font-size="10.4" text-anchor="middle" fill="#111" stroke="#111" stroke-width="0.12" >fiber</text>
<text x="557.8" y="525.8" font-size="10.4" text-anchor="middle" fill="#111" stroke="#111" stroke-width="0.12" >patch</text>
<text x="629.7" y="433.5" font-size="10.2" text-anchor="middle" fill="#222" stroke="#222" stroke-width="0.12" >[Ca<tspan dy="-3.37" font-size="6.1">2+</tspan><tspan dy="3.37">]</tspan></text>
<line x1="549.60" y1="517.10" x2="556.76" y2="508.81" stroke="#111" stroke-width="0.9" />
<polygon points="559.70,505.40 558.65,510.44 554.87,507.17" fill="#111"/>
<line x1="613.90" y1="508.90" x2="610.06" y2="498.52" stroke="#111" stroke-width="0.9" />
<polygon points="608.50,494.30 612.41,497.65 607.72,499.39" fill="#111"/>
</svg></body></html>
